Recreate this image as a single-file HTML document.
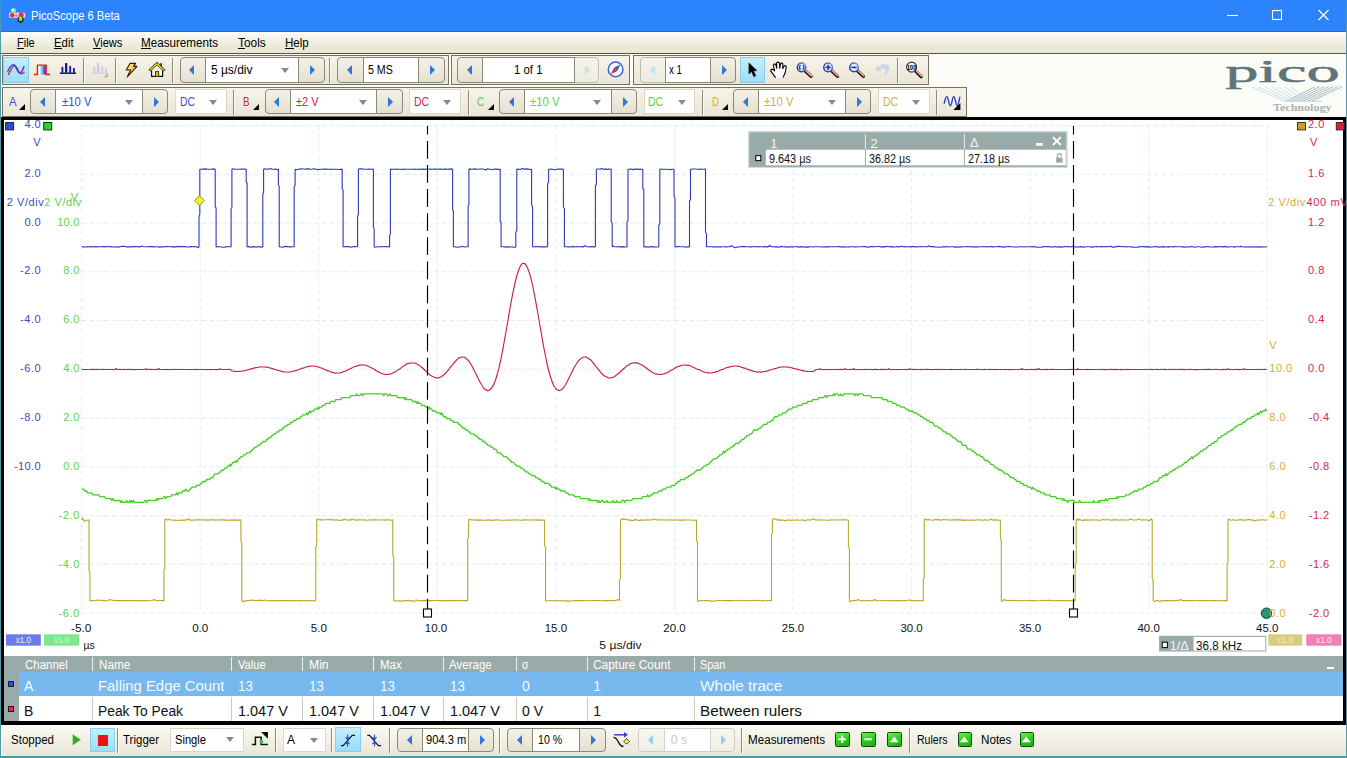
<!DOCTYPE html>
<html lang="en"><head><meta charset="utf-8"><title>PicoScope 6 Beta</title>
<style>
html,body{margin:0;padding:0}
body{width:1347px;height:758px;overflow:hidden;background:#fbfbf8;font-family:"Liberation Sans",sans-serif;position:relative}
div,span.t,svg{position:absolute;box-sizing:border-box}
span.t{line-height:20px;white-space:pre;transform-origin:0 50%}
.grp{border:1px solid #77735f;background:linear-gradient(#f6f4ea,#e9e6d6)}
.spin{border:1px solid #8b8876;border-radius:4px;background:linear-gradient(#f3f1e6,#e4e1d0);overflow:hidden}
.spin .w{background:#fff;border-left:1px solid #8b8876;border-right:1px solid #8b8876;top:-1px;bottom:-1px;height:auto}
.spin.dis{border-color:#cfccbf;background:linear-gradient(#f8f7f0,#f0eee4)}.spin.dis .w{border-color:#d6d3c6}
.dd{background:#fff;border:1px solid #dad7c8}
.sep{width:2px;border-left:1px solid #8e8a78;border-right:1px solid #fbfaf3}
.sel{background:linear-gradient(#c6eefc,#9bdcf8);border:1px solid #8ccdf0}
.tri-l{width:0;height:0;border-top:5px solid transparent;border-bottom:5px solid transparent;border-right:5.6px solid #2b77dd}
.tri-r{width:0;height:0;border-top:5px solid transparent;border-bottom:5px solid transparent;border-left:5.6px solid #2b77dd}
.tri-d{width:0;height:0;border-left:4.5px solid transparent;border-right:4.5px solid transparent;border-top:5px solid #8a8a8a}
.cor{width:0;height:0;border-left:6px solid transparent;border-bottom:6px solid #000}
.gbtn{border:1.2px solid #0e4c0e;background:linear-gradient(160deg,#6cf050,#2fd41e 45%,#1ea812);border-radius:1.5px}
</style></head>
<body>
<div style="left:0px;top:0px;width:1347px;height:31px;background:#2b84fb"></div>
<span class="t" style="left:30.80px;top:6px;font-size:12.5px;color:#fff;transform:scaleX(0.8925);">PicoScope 6 Beta</span>
<svg style="left:0;top:0" width="34" height="31" viewBox="0 0 34 31"><rect x="9" y="12.8" width="16.2" height="5" rx="1.2" fill="#f2dcee"/><circle cx="13.4" cy="10.8" r="2.7" fill="#7ae69a"/><circle cx="13" cy="10" r="1.3" fill="#e8fff0"/><circle cx="12.2" cy="15.3" r="2.3" fill="#e0304c"/><circle cx="16.4" cy="15.6" r="1.5" fill="#e87890"/><circle cx="21.2" cy="15" r="2.5" fill="#e22c48"/><circle cx="20.6" cy="19.6" r="3.1" fill="#0c2a10"/><circle cx="20.6" cy="19.2" r="2" fill="#7ed224"/><circle cx="20.6" cy="17.6" r="1.2" fill="#f0e850"/></svg>
<svg style="left:1200px;top:0" width="147" height="31" viewBox="0 0 147 31"><path d="M27 15.5h11" stroke="#fff" stroke-width="1.1" fill="none"/><rect x="72.5" y="10.5" width="9" height="9" stroke="#fff" stroke-width="1.1" fill="none"/><path d="M118.5 10l10 10M128.5 10l-10 10" stroke="#fff" stroke-width="1.2" fill="none"/></svg>
<div style="left:0px;top:30.6px;width:1347px;height:1.1px;background:#3f659a"></div>
<div style="left:0px;top:31.7px;width:1347px;height:21.3px;background:linear-gradient(#ffffff,#f8f8f1 12%,#f0efe2 50%,#e9e8d2 80%,#ece7d3)"></div>
<div style="left:0px;top:53px;width:1347px;height:1.2px;background:#55534a"></div>
<span class="t" style="left:17.10px;top:32.7px;font-size:12.5px;color:#000;transform:scaleX(0.8790);">File</span>
<div style="left:17.1px;top:48.3px;width:7.25377px;height:1px;background:#000"></div>
<span class="t" style="left:54.40px;top:32.7px;font-size:12.5px;color:#000;transform:scaleX(0.9100);">Edit</span>
<div style="left:54.4px;top:48.3px;width:7.92063px;height:1px;background:#000"></div>
<span class="t" style="left:93.10px;top:32.7px;font-size:12.5px;color:#000;transform:scaleX(0.8879);">Views</span>
<div style="left:93.1px;top:48.3px;width:7.92063px;height:1px;background:#000"></div>
<span class="t" style="left:141.40px;top:32.7px;font-size:12.5px;color:#000;transform:scaleX(0.9326);">Measurements</span>
<div style="left:141.4px;top:48.3px;width:9.89206px;height:1px;background:#000"></div>
<span class="t" style="left:238.10px;top:32.7px;font-size:12.5px;color:#000;transform:scaleX(0.9494);">Tools</span>
<div style="left:238.1px;top:48.3px;width:7.25377px;height:1px;background:#000"></div>
<span class="t" style="left:285.40px;top:32.7px;font-size:12.5px;color:#000;transform:scaleX(0.9256);">Help</span>
<div style="left:285.4px;top:48.3px;width:8.57579px;height:1px;background:#000"></div>
<div class="grp" style="left:2px;top:55px;width:447px;height:30.4px;"></div>
<div class="grp" style="left:451px;top:55px;width:179.2px;height:30.4px;"></div>
<div class="grp" style="left:633px;top:55px;width:296px;height:30.4px;"></div>
<div class="sel" style="left:3px;top:57.3px;width:25.7px;height:25.4px;"></div>
<div class="sep" style="left:83px;top:58px;width:2px;height:25px;"></div>
<div class="sep" style="left:115px;top:58px;width:2px;height:25px;"></div>
<div class="sep" style="left:172px;top:58px;width:2px;height:25px;"></div>
<div class="spin" style="left:179.5px;top:57.2px;width:145.1px;height:25.6px;"><div class="w" style="left:24.3px;top:-1px;width:94.1px;height:25.6px;"></div><div class="tri-l" style="left:8.85px;top:7.1px;border-right-color:#2b77dd"></div><div class="tri-r" style="left:129.45px;top:7.1px;border-left-color:#2b77dd"></div><div class="tri-d" style="left:100.1px;top:10.1px"></div></div><span class="t" style="left:210.60px;top:59.8px;font-size:12.5px;color:#000;transform:scaleX(0.9556);">5 µs/div</span>
<div class="sep" style="left:329px;top:58px;width:2px;height:25px;"></div>
<div class="spin" style="left:337.3px;top:57.2px;width:107.3px;height:25.6px;"><div class="w" style="left:24.6px;top:-1px;width:55.9px;height:25.6px;"></div><div class="tri-l" style="left:9px;top:7.1px;border-right-color:#2b77dd"></div><div class="tri-r" style="left:91.6px;top:7.1px;border-left-color:#2b77dd"></div></div><span class="t" style="left:367.90px;top:59.8px;font-size:12.5px;color:#000;transform:scaleX(0.8500);">5 MS</span>
<div class="spin" style="left:457.3px;top:57.2px;width:142.2px;height:25.6px;"><div class="w" style="left:24px;top:-1px;width:92.7px;height:25.6px;"></div><div class="tri-l" style="left:8.7px;top:7.1px;border-right-color:#2b77dd"></div><div class="tri-r" style="left:127.15px;top:7.1px;border-left-color:#8fd2ec"></div></div><span class="t" style="left:514.40px;top:59.8px;font-size:12.5px;color:#000;transform:scaleX(0.9113);">1 of 1</span>
<div class="spin" style="left:639.8px;top:57.2px;width:96.4px;height:25.6px;"><div class="w" style="left:24.3px;top:-1px;width:45.9px;height:25.6px;"></div><div class="tri-l" style="left:8.85px;top:7.1px;border-right-color:#8fd2ec"></div><div class="tri-r" style="left:81px;top:7.1px;border-left-color:#2b77dd"></div></div><span class="t" style="left:669.00px;top:59.8px;font-size:12.5px;color:#000;transform:scaleX(0.7800);">x 1</span>
<div style="left:639.8px;top:57.2px;width:25px;height:25.6px;background:rgba(250,249,243,.45);border-radius:4px 0 0 4px;pointer-events:none;z-index:0"></div>
<div style="left:575.3px;top:57.2px;width:24.4px;height:25.6px;background:rgba(250,249,243,.45);border-radius:0 4px 4px 0"></div>
<div class="sel" style="left:739.6px;top:57.3px;width:25px;height:25.4px;"></div>
<div class="sep" style="left:896.6px;top:58px;width:2px;height:25px;"></div>
<div class="grp" style="left:2px;top:86.9px;width:965px;height:30.6px;"></div>
<span class="t" style="left:8.60px;top:91.8px;font-size:12.5px;color:#3a4fd0;transform:scaleX(0.9115);">A</span>
<div class="cor" style="left:19px;top:103.8px;width:6.2px;height:6.2px;"></div>
<div class="spin" style="left:30.3px;top:89.4px;width:138.1px;height:25.1px;"><div class="w" style="left:24px;top:-1px;width:87.9px;height:25.1px;"></div><div class="tri-l" style="left:8.7px;top:6.85px;border-right-color:#2b77dd"></div><div class="tri-r" style="left:122.7px;top:6.85px;border-left-color:#2b77dd"></div><div class="tri-d" style="left:93.6px;top:9.85px"></div></div><span class="t" style="left:61.50px;top:91.8px;font-size:12.5px;color:#3a4fd0;transform:scaleX(0.9087);">±10 V</span>
<div class="dd" style="left:175.1px;top:89.2px;width:51.6px;height:25.3px;"><div class="tri-d" style="left:33px;top:9.35px"></div></div><span class="t" style="left:179.60px;top:91.8px;font-size:12.5px;color:#3a4fd0;transform:scaleX(0.8366);">DC</span>
<div class="sep" style="left:233.2px;top:90px;width:2px;height:25px;"></div>
<span class="t" style="left:242.90px;top:91.8px;font-size:12.5px;color:#d81e4a;transform:scaleX(0.7800);">B</span>
<div class="cor" style="left:253.3px;top:103.8px;width:6.2px;height:6.2px;"></div>
<div class="spin" style="left:264.6px;top:89.4px;width:138.1px;height:25.1px;"><div class="w" style="left:24px;top:-1px;width:87.9px;height:25.1px;"></div><div class="tri-l" style="left:8.7px;top:6.85px;border-right-color:#2b77dd"></div><div class="tri-r" style="left:122.7px;top:6.85px;border-left-color:#2b77dd"></div><div class="tri-d" style="left:93.6px;top:9.85px"></div></div><span class="t" style="left:295.80px;top:91.8px;font-size:12.5px;color:#d81e4a;transform:scaleX(0.8859);">±2 V</span>
<div class="dd" style="left:409.4px;top:89.2px;width:51.6px;height:25.3px;"><div class="tri-d" style="left:33px;top:9.35px"></div></div><span class="t" style="left:413.90px;top:91.8px;font-size:12.5px;color:#d81e4a;transform:scaleX(0.8366);">DC</span>
<div class="sep" style="left:467.5px;top:90px;width:2px;height:25px;"></div>
<span class="t" style="left:477.20px;top:91.8px;font-size:12.5px;color:#5fd04a;transform:scaleX(0.7800);">C</span>
<div class="cor" style="left:487.6px;top:103.8px;width:6.2px;height:6.2px;"></div>
<div class="spin" style="left:498.9px;top:89.4px;width:138.1px;height:25.1px;"><div class="w" style="left:24px;top:-1px;width:87.9px;height:25.1px;"></div><div class="tri-l" style="left:8.7px;top:6.85px;border-right-color:#2b77dd"></div><div class="tri-r" style="left:122.7px;top:6.85px;border-left-color:#2b77dd"></div><div class="tri-d" style="left:93.6px;top:9.85px"></div></div><span class="t" style="left:530.10px;top:91.8px;font-size:12.5px;color:#5fd04a;transform:scaleX(0.9087);">±10 V</span>
<div class="dd" style="left:643.7px;top:89.2px;width:51.6px;height:25.3px;"><div class="tri-d" style="left:33px;top:9.35px"></div></div><span class="t" style="left:648.20px;top:91.8px;font-size:12.5px;color:#5fd04a;transform:scaleX(0.8366);">DC</span>
<div class="sep" style="left:701.8px;top:90px;width:2px;height:25px;"></div>
<span class="t" style="left:711.50px;top:91.8px;font-size:12.5px;color:#d4b23a;transform:scaleX(0.7800);">D</span>
<div class="cor" style="left:721.9px;top:103.8px;width:6.2px;height:6.2px;"></div>
<div class="spin" style="left:733.2px;top:89.4px;width:138.1px;height:25.1px;"><div class="w" style="left:24px;top:-1px;width:87.9px;height:25.1px;"></div><div class="tri-l" style="left:8.7px;top:6.85px;border-right-color:#2b77dd"></div><div class="tri-r" style="left:122.7px;top:6.85px;border-left-color:#2b77dd"></div><div class="tri-d" style="left:93.6px;top:9.85px"></div></div><span class="t" style="left:764.40px;top:91.8px;font-size:12.5px;color:#d4b23a;transform:scaleX(0.9087);">±10 V</span>
<div class="dd" style="left:878px;top:89.2px;width:51.6px;height:25.3px;"><div class="tri-d" style="left:33px;top:9.35px"></div></div><span class="t" style="left:882.50px;top:91.8px;font-size:12.5px;color:#d4b23a;transform:scaleX(0.8366);">DC</span>
<div class="sep" style="left:936.1px;top:90px;width:2px;height:25px;"></div>
<div style="left:1.3px;top:117.2px;width:1344.4px;height:608.2px;background:#000"></div>
<div style="left:3.9px;top:119.8px;width:1338.9px;height:536.6px;background:#fff"></div>
<svg style="left:0;top:0;pointer-events:none" width="1347" height="758" viewBox="0 0 1347 758" font-family="'Liberation Sans',sans-serif">
<path d="M81.7 125.5V613.1M81.7 125.5H1267.2M200.2 125.5V613.1M81.7 174.3H1267.2M318.8 125.5V613.1M81.7 223.0H1267.2M437.3 125.5V613.1M81.7 271.8H1267.2M555.9 125.5V613.1M81.7 320.5H1267.2M674.5 125.5V613.1M81.7 369.3H1267.2M793.0 125.5V613.1M81.7 418.1H1267.2M911.6 125.5V613.1M81.7 466.8H1267.2M1030.1 125.5V613.1M81.7 515.6H1267.2M1148.7 125.5V613.1M81.7 564.3H1267.2M1267.2 125.5V613.1M81.7 613.1H1267.2" stroke="#dfeeef" stroke-width="1" stroke-dasharray="4.5 3" fill="none"/>
<path d="M81.7 246.8L82.7 246.7L83.8 246.9L85.4 247L87 246.9L88.1 246.5L89.5 247L91.9 246.6L93 246.7L94.4 246.9L96.6 246.9L98.5 246.7L99.6 246.7L100.9 246.7L102.8 246.6L104.2 246.9L106.1 246.5L108.4 246.8L109.6 246.6L111.7 246.9L113.7 247L115.6 246.9L117.5 246.7L119.2 247.1L121.2 246.4L123.2 246.4L124.6 246.3L126.6 247L127.8 246.8L130 246.9L132.3 246.9L133.9 246.4L136.2 246.7L137.9 246.5L139.1 247.1L140.4 246.8L141.8 246.1L143.6 246.7L145.9 246.7L147.9 246.8L150.3 246.6L152.2 246.6L153.8 246.9L156.2 246.7L157.4 246.8L159.2 247.1L160.5 246.7L162.5 247.1L163.6 246.7L166.1 246.6L168.2 246.8L170 246.7L172.4 246.6L174.4 247.1L176.4 246.6L178.6 246.4L180 246.7L181.7 246.6L183.9 246.6L185.2 246.5L187 247L189.5 246.9L191.4 246.6L193.6 246.8L194.7 246.6L196.4 246.7L198.3 247.8L199 246.8L199 216L199.8 214.5L199.8 169.2L200.8 169.3L202.9 169.1L205.3 168.9L207.7 169.3L209.4 169.2L211.9 169.1L213.7 168.9L215.2 169.2L215.2 206.6L216.1 208.1L216.1 246.8L217.1 246.9L218.4 246.8L220.5 246.8L222.6 247.2L224.9 247.3L226.2 246.5L228 246.8L229.1 246.8L231.1 246.8L231.1 208.9L231.9 207.4L231.9 169.2L232.9 168.8L235.3 169.3L237.6 169.3L239.5 169.2L241.4 169.1L242.5 169.1L244.7 169L245.8 169.2L246.2 169.2L246.2 181.6L247.1 183.1L247.1 246.8L248.1 246.9L249.2 246.6L250.5 247.3L252.3 246.9L254.1 246.6L256.5 247.2L258.2 246.6L259.7 246.7L261.1 247.1L262.2 246.9L262.8 246.8L262.8 194.2L263.6 192.6L263.6 169.2L264.6 168.7L266.4 169.2L267.6 169.1L268.9 169L270.6 168.6L271.7 169.1L273.8 169.3L275.5 169.1L277.9 169.7L278.4 169.2L278.4 184.7L279.2 186.3L279.2 246.8L280.2 246.7L282.4 247.2L284.7 246.6L286.5 246.4L288.2 246.7L289.5 246.9L290.9 246.9L292.8 246.8L294.2 246.8L294.2 186.8L295.1 185.3L295.1 169.2L296.1 169.8L298.4 169.2L299.5 169.1L300.9 168.7L303.3 169L304.9 169L306.4 169.4L307.4 168.6L309.8 169.1L311.8 169.2L313.8 168.8L315.3 169.1L316.6 169.3L317.8 169.6L320.3 169.2L322.6 169.2L323.7 169.1L326.2 169L328.2 169.3L329.2 169.2L330.7 169.4L333 169.2L334.3 169.2L336.3 169.3L338.5 169.5L340.3 169.4L341.8 169.1L342.2 169.2L342.2 188.7L343.1 190.2L343.1 246.8L344.1 246.7L346.3 246.5L348.1 246.6L350 247L351.8 247.1L353.8 246.4L355.7 246.8L356.7 246.7L357.6 246.8L357.6 216L358.4 214.4L358.4 169.2L359.4 168.9L360.5 168.9L362.2 168.8L363.2 169.1L364.9 169.2L367.3 169.3L369.4 169.1L371.6 169.3L373 169.1L373.4 169.2L373.4 227.3L374.2 228.9L374.2 246.8L375.2 247.2L376.3 247L377.6 246.7L379.7 246.7L380.9 246.6L382 246.8L383.7 246.8L385.9 246.6L387.7 246.8L389.1 246.9L389.6 246.8L389.6 235.7L390.4 234.1L390.4 169.2L391.4 169.4L393.8 169.2L395 169.2L396.9 169L398.3 169.3L400.6 169.3L401.9 169.5L403.9 169.1L405.5 169.3L407 169.3L409.4 169.2L410.8 169.2L412.4 169.3L414.5 169.1L416 169.5L417.2 169.3L418.8 169.1L420.5 169.5L422.6 168.9L423.9 169.4L426.3 169L428.6 169.3L431 169.1L432.4 169.2L434.5 169.1L436.2 169L437.4 169.2L439.6 169.1L441.3 169L443.1 169.5L444.4 169L446.6 169.1L447.6 169.3L449 169.1L451.1 168.9L452.6 169.2L452.6 209.6L453.4 211.2L453.4 246.8L454.4 246.8L456.7 247.2L458.7 247L460.2 247L461.8 246.3L464 247L466.4 246.8L468.1 246.8L468.1 206.2L468.9 204.7L468.9 169.2L469.9 168.9L471.2 169.3L472.3 169.3L474.7 168.9L476.8 169.3L477.9 169.2L480.3 169L482.5 169L483.9 169.3L486.1 170L487.6 168.7L489.9 169.3L491.3 169.2L492.7 169.7L494.5 169.1L496.5 169L497.8 169.4L499.8 169.2L500.2 169.2L500.2 221.4L501.1 222.9L501.1 246.8L502.1 246.7L503.6 246.8L505 246.9L507.4 247.1L508.7 246.8L511.1 247L512.7 246.9L513.8 247.3L515.4 247.1L515.8 246.8L515.8 232.2L516.8 230.6L516.8 169.2L517.8 169L519 169.5L521 169.1L522.6 168.2L523.7 169.3L526 168.9L528.2 169.1L530.4 169.5L531.6 169.2L531.6 205L532.6 206.5L532.6 246.8L533.6 247L535.7 246.5L537.6 246.8L539.2 246.4L540.4 246.9L542.4 246.7L543.4 246.9L545.5 246.9L547.4 246.7L547.6 246.8L547.6 183.7L548.6 182.1L548.6 169.2L549.6 169.2L551.2 169.1L553.4 169.5L555.2 169.8L556.6 169.2L558.9 169.1L561.1 169L562.3 169.1L563.4 169.2L563.4 207L564.4 208.5L564.4 246.8L565.4 246.7L566.5 246.8L568.4 246.9L570.9 247L572.1 246.4L573.9 246.9L576 246.8L577.5 246.6L578.8 246.7L580.3 246.8L581.5 246.9L583.3 246.9L584.5 245.6L586.7 246.8L587.8 246.8L590.3 246.9L592.7 246.5L594.1 247.1L595.4 246.8L595.4 185.9L596.4 184.4L596.4 169.2L597.4 169L598.9 169L600.2 169.2L601.5 168.6L603.1 169L604.2 169.4L605.9 168.9L607.1 169.4L609.1 169.1L611.1 169.3L611.2 169.2L611.2 221.7L612.2 223.3L612.2 246.8L613.2 246.1L615.1 246.7L616.7 247L617.9 246.7L619.8 246.6L620.8 247.1L623 246.6L625.2 247L626.7 246.9L627 246.8L627 222.2L628 220.6L628 169.2L629 169.3L631.2 169.1L633.5 169.6L635.4 169.1L637.5 169.1L639.4 169.4L640.7 169L642.6 169.7L642.8 169.2L642.8 188.4L643.8 189.9L643.8 246.8L644.8 246.9L647 246.9L649 247.2L650.5 246.6L652.6 246.9L654.1 246.8L655.9 247L656.9 247L658.8 246.8L658.8 246.8L658.8 225.4L659.8 223.8L659.8 169.2L660.8 169.1L662.3 169.2L664.1 169.2L666.4 169.2L668.5 169.5L670.5 169.4L671.5 169.5L672.7 169.3L674 169.2L674 196.1L675 197.7L675 246.8L676 246.9L678 246.5L680.3 246.7L682.2 246.7L683.9 246.8L685.8 247.3L687.1 246.7L689.1 246.9L689.5 246.8L689.5 201.1L690.5 199.6L690.5 169.2L691.5 169.2L692.5 169L695 169L697.3 169.3L699.1 169.4L700.7 168.9L701.9 169.2L703.8 169.3L705.3 169L705.5 169.2L705.5 232L706.5 233.5L706.5 246.8L707.5 246.8L709.5 246.8L711.5 246.7L713 247L714.1 246.9L716 246.7L717.6 247L718.8 246.5L719.8 247.1L721.9 246.7L723.9 246.8L726.1 246.9L728.4 246.8L730.3 246.6L731.5 245.6L733.3 246.7L735.5 247.7L737.5 246.9L739.4 247L741.1 246.6L743 246.6L745.1 246.6L746.7 246.8L747.9 246.7L749.3 246.7L750.4 247.2L751.8 246.5L753.8 246.7L756.2 246.5L758.6 246.9L759.9 246.7L762.2 246.8L763.4 246.9L765.3 246.5L767.8 247.1L769.6 245.5L771.3 246.8L773.1 246.8L774.3 246.9L775.5 246.9L777 246.8L778 247.1L780.1 246.9L781.2 246.6L783.4 246.7L784.5 247.1L785.7 246.5L786.8 247.2L788.8 246.9L790.7 246.8L792.9 246.9L794.3 246.8L795.8 246.8L797.3 246.6L799.6 247.3L800.6 246.6L802.2 246.9L804 246.9L806.2 247.2L807.2 246.9L808.2 247.1L809.9 246.8L811.5 246.7L812.9 247L814.9 246.7L816.1 246.7L818.1 246.7L820.1 246.7L822.4 247L824.7 246.9L827.1 246.8L828.6 246.9L830.4 246.7L832.6 246.7L833.8 246.7L835.8 246.8L838 246.7L839.2 246.4L840.4 246.9L842.5 246.9L843.9 246.7L845.6 246.9L848.1 247L849.3 246.9L851.7 246.8L853.8 246.7L855 246.9L856.6 247L858.6 246.8L860.6 246.7L862.2 246.8L864.5 246.6L866.2 246.9L868.3 247.1L870.5 246.6L872.5 246.6L873.6 246.8L875.8 246.7L877.5 246.5L879.4 246.5L880.7 247L882.8 246.6L883.9 246.9L885.1 246.9L886.3 246.3L888.1 246.8L890.3 246.6L891.9 246.9L893.5 246.8L894.7 247L896.1 246.8L897.2 246.6L898.7 246.9L900 246.8L901.3 246.3L902.9 246.8L905.1 246.9L906.8 246.7L908.4 246.7L910.6 246.9L912.4 246.6L914.7 246.6L916.2 247.1L917.9 246.8L919.3 246.8L920.8 246.6L922.7 246.8L925.1 246.8L927.5 246.7L928.7 245.8L930 246.6L931.5 246.6L932.7 246.6L934.9 246.9L936.8 247L939.3 247.2L941.3 247L943 246.8L945 246.9L946.2 246.5L948 247L950.4 246.8L952.3 246.7L953.5 246.7L955 247.1L956.6 247.1L958.1 246.8L959.2 247.1L961.4 246.9L963.1 246.8L964.7 246.7L965.9 246.7L967.7 246.6L969.1 246.7L970.6 246.9L972.3 246.5L973.8 247.3L975.6 246.9L976.8 246.9L977.9 247L979.5 246.8L981.1 246.8L982.8 246.8L983.9 246.5L985.1 246.8L987.1 246.9L989.1 246.7L990.4 246.6L991.5 246.5L992.5 246.9L994.6 246.7L995.9 246.8L997.7 246.8L999.5 246.4L1001.1 246.7L1002.7 247.1L1005.2 246.9L1006.4 246.8L1008.2 246.5L1010.1 246.8L1012.6 246.8L1013.9 247L1015.8 247L1017.9 247L1019.9 246.7L1022.1 246.7L1024.1 247L1026.4 246.8L1028.8 246.8L1030.7 246.7L1033.1 246.9L1035 246.6L1036.7 247.2L1039.2 247.2L1041.4 247.1L1043.6 246.6L1045.1 246.8L1047 246.6L1049.3 246.5L1050.3 247L1052.8 247.1L1054.4 246.6L1056 247L1057.5 246.8L1059.7 246.9L1061.1 247.1L1062.3 247.1L1064.5 246.5L1066.3 246.7L1068 246.5L1070.5 247L1071.6 246.6L1073.5 246.1L1075.2 247.1L1076.5 247L1078.9 247L1080.8 246.6L1082 246.9L1083.9 247.1L1085.7 246.8L1087.2 246.8L1089.2 246.8L1090.7 246.7L1091.7 247.4L1093.5 246.9L1094.8 246.8L1097 246.6L1099.4 246.8L1100.7 246.9L1101.8 246.4L1104.2 246.7L1105.3 246.6L1107.7 246.7L1109.6 246.5L1111.2 246.4L1112.4 247.4L1113.5 246.7L1115 247.2L1116.1 246.6L1118.1 246.4L1119.4 246.3L1121.8 246.7L1123.9 246.6L1125.4 246.8L1126.6 246.9L1127.9 246.8L1129.1 246.8L1131.5 246.9L1133.9 247.3L1135.5 247.2L1137.5 247.1L1139 246.9L1140.2 246.6L1141.3 246.7L1143.6 246.6L1145.2 246.9L1146.7 246.9L1148.5 246.6L1150.9 247.2L1153.3 246.7L1154.7 246.7L1156 246.4L1158.4 247.3L1159.8 246.9L1161.3 246.8L1162.3 246.9L1163.3 246.6L1165.1 246.9L1166.4 247L1167.6 246.9L1168.9 247.1L1170 246.6L1171.3 246.7L1173.4 246.9L1174.5 246.6L1176.1 246.8L1177.6 246.7L1179.9 246.8L1181.6 246.8L1183 246.9L1184.3 247.1L1186.2 247L1187.9 246.8L1190 247L1192.1 246.4L1194.2 247.2L1196 247L1197.8 246.8L1199.1 246.8L1200.2 246.8L1201.4 247.2L1202.7 247.1L1204.5 246.8L1205.6 247L1206.8 246.6L1208.6 246.8L1209.8 246.9L1212 247L1213.3 247L1215.7 246.6L1217.5 246.9L1219.9 246.8L1221.4 246.6L1223.9 246.9L1226.1 246.4L1227.9 247.3L1229.6 246.7L1231.1 246.7L1232.9 246.8L1234.1 247.1L1236 246.7L1238.3 246.8L1239.7 246.8L1241.2 246.4L1242.5 246.7L1244.2 247L1246.2 246.7L1248 247L1249.7 246.7L1251 246.9L1252.6 246.9L1253.9 247L1255.9 246.9L1257.8 246.9L1259.7 247.1L1261.4 246.7L1263.1 246.9L1265 247L1266.4 246.8L1267.2 246.8" stroke="#2c3ab8" stroke-width="1.1" fill="none" stroke-linejoin="round"/>
<path d="M81.7 369.5L82.7 369.6L83.7 369.5L84.7 369.5L85.7 369.5L86.7 369.5L87.7 369.5L88.7 369.5L89.7 369.5L90.7 369.5L91.7 369.4L92.7 369.4L93.7 369.5L94.7 369.4L95.7 369.5L96.7 369.4L97.7 369.5L98.7 369.5L99.7 369.4L100.7 369.5L101.7 369.5L102.7 369.4L103.7 369.4L104.7 369.5L105.7 369.5L106.7 369.5L107.7 369.5L108.7 369.4L109.7 369.5L110.7 369.5L111.7 369.5L112.7 369.5L113.7 369.6L114.7 369.4L115.7 368.5L116.7 369.5L117.7 369.4L118.7 369.5L119.7 369.3L120.7 369.5L121.7 369.5L122.7 369.5L123.7 369.4L124.7 369.6L125.7 369.5L126.7 369.5L127.7 369.4L128.7 369.5L129.7 369.4L130.7 369.5L131.7 369.4L132.7 369.5L133.7 369.6L134.7 369.5L135.7 369.6L136.7 369.5L137.7 369.5L138.7 369.5L139.7 369.4L140.7 369.5L141.7 369.5L142.7 369.5L143.7 369.5L144.7 369.5L145.7 368.6L146.7 369.6L147.7 369.5L148.7 369.4L149.7 369.4L150.7 369.5L151.7 369.3L152.7 369.5L153.7 369.5L154.7 369.5L155.7 369.5L156.7 369.5L157.7 369.4L158.7 368.5L159.7 369.5L160.7 369.5L161.7 369.5L162.7 369.5L163.7 369.5L164.7 369.5L165.7 369.6L166.7 369.5L167.7 369.4L168.7 369.5L169.7 369.6L170.7 369.5L171.7 369.5L172.7 369.5L173.7 369.4L174.7 369.5L175.7 369.5L176.7 369.5L177.7 369.4L178.7 369.5L179.7 369.5L180.7 369.5L181.7 369.5L182.7 369.5L183.7 369.5L184.7 369.5L185.7 369.5L186.7 369.5L187.7 369.5L188.7 369.5L189.7 369.5L190.7 369.6L191.7 369.5L192.7 369.5L193.7 369.5L194.7 369.5L195.7 369.4L196.7 369.6L197.7 369.5L198.7 369.5L199.7 369.5L200.7 369.5L201.7 369.5L202.7 369.5L203.7 369.5L204.7 369.5L205.7 369.5L206.7 369.6L207.7 369.5L208.7 369.5L209.7 369.5L210.7 369.6L211.7 369.5L212.7 369.5L213.7 369.5L214.7 369.5L215.7 369.6L216.7 369.6L217.7 369.6L218.7 369.5L219.7 368.6L220.7 369.5L221.7 369.5L222.7 369.5L223.7 369.5L224.7 369.5L225.7 369.5L226.7 369.5L227.7 369.5L228.7 369.4L229.7 369.5L230.7 369.5L231.7 371L232.7 371L233.7 371L234.7 371.5L235.7 371.5L236.7 371.4L237.7 371.5L238.7 371.5L239.7 371.4L240.7 371.5L241.7 371L242.7 371L243.7 371L244.7 370.4L245.7 370.5L246.7 370L247.7 370L248.7 369.4L249.7 369.5L250.7 369L251.7 368.6L252.7 368.6L253.7 368L254.7 368.1L255.7 367.5L256.7 367.5L257.7 367.5L258.7 367L259.7 367L260.7 366.9L261.7 367L262.7 367L263.7 367L264.7 367L265.7 367.1L266.7 367L267.7 367.5L268.7 367.4L269.7 368L270.7 368L271.7 368.6L272.7 368.5L273.7 368.9L274.7 369.5L275.7 369.5L276.7 370L277.7 370.5L278.7 370.5L279.7 371L280.7 370.9L281.7 371.5L282.7 371.6L283.7 372.1L284.7 372L285.7 372L286.7 372L287.7 372L288.7 372L289.7 372L290.7 372L291.7 371.5L292.7 371.5L293.7 371L294.7 370.9L295.7 370.5L296.7 370.5L297.7 369.9L298.7 369.5L299.7 369L300.7 369L301.7 368.5L302.7 368.1L303.7 368L304.7 367.6L305.7 367L306.7 367.1L307.7 366.4L308.7 366.5L309.7 366.5L310.7 366.1L311.7 366L312.7 366L313.7 366L314.7 366.4L315.7 366.5L316.7 366.5L317.7 367L318.7 367L319.7 367.5L320.7 368L321.7 368L322.7 368.6L323.7 369L324.7 369.5L325.7 370L326.7 370.6L327.7 370.5L328.7 371L329.7 371.5L330.7 372L331.7 372.1L332.7 372.5L333.7 372.6L334.7 373L335.7 373.1L336.7 373L337.7 373L338.7 373L339.7 373L340.7 372.5L341.7 372.5L342.7 372L343.7 371.6L344.7 371.5L345.7 370.9L346.7 370.4L347.7 370L348.7 369.5L349.7 369L350.7 368.5L351.7 368.1L352.7 367.5L353.7 367L354.7 366.5L355.7 366.5L356.7 366.1L357.7 365.6L358.7 365.4L359.7 365L360.7 365.1L361.7 365L362.7 364.9L363.7 365L364.7 365L365.7 365.5L366.7 365.5L367.7 366L368.7 366.5L369.7 366.9L370.7 367.6L371.7 368L372.7 368.5L373.7 368.9L374.7 369.5L375.7 370.5L376.7 370.9L377.7 371.6L378.7 371.9L379.7 372.4L380.7 373L381.7 373.5L382.7 374L383.7 374L384.7 374.5L385.7 374.5L386.7 374.5L387.7 374.4L388.7 374.5L389.7 374L390.7 374L391.7 373.5L392.7 373L393.7 372.5L394.7 372L395.7 371.6L396.7 370.9L397.7 370L398.7 369.4L399.7 369L400.7 368.1L401.7 367.4L402.7 366.5L403.7 366L404.7 365.5L405.7 364.5L406.7 363.9L407.7 363.5L408.7 363.5L409.7 363L410.7 363.1L411.7 363L412.7 363L413.7 363L414.7 363L415.7 363.5L416.7 364L417.7 364.6L418.7 365L419.7 365.6L420.7 366.4L421.7 367.6L422.7 368L423.7 369L424.7 370L425.7 371L426.7 371.9L427.7 373L428.7 373.6L429.7 374.6L430.7 375.5L431.7 376L432.7 376.5L433.7 376.9L434.7 377.6L435.7 377.5L436.7 378L437.7 378L438.7 377.5L439.7 377.6L440.7 377L441.7 376.5L442.7 375.5L443.7 374.9L444.7 374L445.7 373L446.7 372L447.7 370.5L448.7 369.5L449.7 368L450.7 367L451.7 365.6L452.7 364.6L453.7 363L454.7 362L455.7 361L456.7 360L457.7 358.9L458.7 358L459.7 357.5L460.7 357.6L461.7 357L462.7 357L463.7 357L464.7 357.5L465.7 358L466.7 359L467.7 359.9L468.7 361L469.7 362.4L470.7 364L471.7 365.5L472.7 367.5L473.7 369.6L474.7 371.5L475.7 373.6L476.7 375.6L477.7 377.5L478.7 379.5L479.7 381.6L480.7 383L481.7 385L482.7 386.5L483.7 388L484.7 389L485.7 389.5L486.7 390.5L487.7 390.6L488.7 390.5L489.7 390L490.7 389L491.7 388L492.7 386.4L493.7 384.6L494.7 382L495.7 379.5L496.7 376L497.7 372.6L498.7 368.9L499.7 364.5L500.7 360.1L501.7 355L502.7 350.1L503.7 344.5L504.7 338.9L505.7 333.5L506.7 327.5L507.7 322L508.7 315.9L509.7 310L510.7 304.5L511.7 299L512.7 294L513.7 288.9L514.7 284.5L515.7 280.1L516.7 276.1L517.7 273L518.7 270L519.7 267.5L520.7 265.6L521.7 264L522.7 263.4L523.7 263.5L524.7 263.5L525.7 264.6L526.7 266.1L527.7 268.5L528.7 271.1L529.7 274L530.7 277.6L531.7 281.5L532.7 286L533.7 291L534.7 296L535.7 301.5L536.7 306.9L537.7 312.5L538.7 318.5L539.7 324L540.7 330L541.7 335.4L542.7 341.5L543.7 347L544.7 352L545.7 357L546.7 362.1L547.7 366.5L548.7 370.5L549.7 374L550.7 377.5L551.7 380.5L552.7 383L553.7 385.5L554.7 387L555.7 388.5L556.7 389.5L557.7 390L558.7 390.6L559.7 390.5L560.7 390L561.7 389.5L562.7 388.5L563.7 387.4L564.7 386L565.7 384.5L566.7 382.5L567.7 380.6L568.7 378.5L569.7 376.5L570.7 374.5L571.7 372.4L572.7 370.5L573.7 368.5L574.7 366.5L575.7 365L576.7 363.5L577.7 362L578.7 360.6L579.7 359.5L580.7 358.6L581.7 357.9L582.7 357.5L583.7 357L584.7 357L585.7 356.9L586.7 357.5L587.7 358.1L588.7 358.4L589.7 359.5L590.7 359.9L591.7 361L592.7 362.5L593.7 363.5L594.7 364.9L595.7 366.1L596.7 367.5L597.7 368.5L598.7 370.1L599.7 371L600.7 372.4L601.7 373.5L602.7 374.5L603.7 375.5L604.7 376L605.7 376.5L606.7 377L607.7 377.4L608.7 378.1L609.7 378L610.7 378L611.7 377.5L612.7 377.5L613.7 377L614.7 376.5L615.7 375.6L616.7 375L617.7 373.9L618.7 373.5L619.7 372.5L620.7 371.5L621.7 370.5L622.7 369.5L623.7 368.5L624.7 368L625.7 367L626.7 365.9L627.7 365.5L628.7 365L629.7 364.1L630.7 363.5L631.7 363.5L632.7 363L633.7 362.9L634.7 362.9L635.7 362.9L636.7 363.1L637.7 362.9L638.7 363.5L639.7 364.1L640.7 364.5L641.7 365L642.7 365.5L643.7 366L644.7 367L645.7 367.5L646.7 368.5L647.7 369L648.7 370L649.7 370.5L650.7 371L651.7 371.9L652.7 372.4L653.7 373L654.7 373.5L655.7 374L656.7 373.9L657.7 374.5L658.7 374.5L659.7 374.5L660.7 374.4L661.7 374.5L662.7 374L663.7 374L664.7 373.6L665.7 373.1L666.7 372.9L667.7 372.5L668.7 372L669.7 371L670.7 370.6L671.7 370L672.7 369.5L673.7 369L674.7 368.5L675.7 367.5L676.7 367L677.7 366.6L678.7 366.5L679.7 366L680.7 365.6L681.7 365.5L682.7 365L683.7 365L684.7 365L685.7 365.1L686.7 365L687.7 365.5L688.7 365.5L689.7 365.4L690.7 365.9L691.7 366.5L692.7 367L693.7 367.5L694.7 368L695.7 368.5L696.7 369L697.7 369.5L698.7 369.5L699.7 369.9L700.7 370.5L701.7 370.9L702.7 371.5L703.7 372L704.7 372L705.7 372.5L706.7 372.5L707.7 373L708.7 372.9L709.7 373L710.7 373L711.7 373L712.7 372.4L713.7 372.5L714.7 372.5L715.7 371.9L716.7 371.5L717.7 371.5L718.7 371L719.7 370.4L720.7 370L721.7 369.5L722.7 369.5L723.7 369L724.7 368.5L725.7 368L726.7 367.5L727.7 367.5L728.7 367L729.7 367.1L730.7 366.5L731.7 366.5L732.7 366.5L733.7 366L734.7 366L735.7 366L736.7 366L737.7 366.5L738.7 366.4L739.7 366.5L740.7 367L741.7 367.5L742.7 367.5L743.7 368.1L744.7 368L745.7 368.5L746.7 369L747.7 369.5L748.7 369.4L749.7 370L750.7 370.6L751.7 370.6L752.7 371.1L753.7 371.6L754.7 371.5L755.7 371.4L756.7 372.1L757.7 372.1L758.7 372L759.7 371.9L760.7 372.1L761.7 372.1L762.7 372L763.7 371.5L764.7 371.5L765.7 371.5L766.7 371.1L767.7 371L768.7 370.5L769.7 370L770.7 369.9L771.7 369.5L772.7 369.2L773.7 369L774.7 368.6L775.7 368.6L776.7 368.1L777.7 368L778.7 367.5L779.7 367.5L780.7 366.9L781.7 367L782.7 367L783.7 366.9L784.7 367L785.7 367L786.7 367.1L787.7 367L788.7 367L789.7 367.4L790.7 367.5L791.7 368L792.7 368.1L793.7 368.4L794.7 368.6L795.7 369L796.7 369L797.7 369.6L798.7 369.4L799.7 370L800.7 370L801.7 370.6L802.7 370.6L803.7 371.1L804.7 371L805.7 371L806.7 371.6L807.7 371.5L808.7 371.5L809.7 371.5L810.7 371.5L811.7 371.4L812.7 371.6L813.7 371L814.7 370.9L815.7 369.5L816.7 369.5L817.7 369.5L818.7 369.5L819.7 368.6L820.7 369.5L821.7 369.5L822.7 369.6L823.7 369.5L824.7 369.5L825.7 369.5L826.7 369.6L827.7 369.5L828.7 369.5L829.7 369.5L830.7 369.6L831.7 369.5L832.7 369.5L833.7 369.6L834.7 369.5L835.7 369.5L836.7 369.5L837.7 369.4L838.7 369.5L839.7 369.6L840.7 369.4L841.7 369.4L842.7 369.6L843.7 369.5L844.7 368.6L845.7 369.4L846.7 369.4L847.7 369.5L848.7 369.5L849.7 369.5L850.7 369.4L851.7 369.5L852.7 369.5L853.7 368.5L854.7 369.6L855.7 369.5L856.7 369.5L857.7 369.5L858.7 369.6L859.7 369.5L860.7 369.5L861.7 369.5L862.7 369.5L863.7 369.5L864.7 369.6L865.7 369.4L866.7 369.5L867.7 369.5L868.7 369.5L869.7 369.4L870.7 369.5L871.7 369.5L872.7 369.6L873.7 369.5L874.7 369.4L875.7 369.4L876.7 369.6L877.7 369.5L878.7 369.5L879.7 369.5L880.7 369.4L881.7 369.4L882.7 369.6L883.7 369.4L884.7 369.5L885.7 369.5L886.7 369.5L887.7 369.5L888.7 368.6L889.7 369.5L890.7 369.6L891.7 369.5L892.7 369.5L893.7 369.5L894.7 369.5L895.7 369.5L896.7 369.6L897.7 369.5L898.7 369.5L899.7 369.5L900.7 369.5L901.7 369.5L902.7 369.5L903.7 369.5L904.7 369.5L905.7 369.4L906.7 369.6L907.7 369.5L908.7 369.5L909.7 368.7L910.7 369.5L911.7 369.4L912.7 369.5L913.7 369.4L914.7 369.5L915.7 369.4L916.7 369.5L917.7 369.5L918.7 369.5L919.7 369.5L920.7 369.4L921.7 369.6L922.7 369.5L923.7 369.5L924.7 369.4L925.7 369.5L926.7 369.4L927.7 369.4L928.7 369.5L929.7 369.5L930.7 369.5L931.7 369.6L932.7 369.5L933.7 369.5L934.7 369.5L935.7 369.4L936.7 369.5L937.7 369.6L938.7 369.4L939.7 369.5L940.7 369.5L941.7 369.4L942.7 369.5L943.7 369.5L944.7 369.5L945.7 369.5L946.7 369.5L947.7 369.5L948.7 369.5L949.7 369.5L950.7 369.6L951.7 369.4L952.7 369.5L953.7 369.5L954.7 369.5L955.7 369.5L956.7 369.5L957.7 369.6L958.7 369.5L959.7 369.5L960.7 369.4L961.7 369.5L962.7 369.5L963.7 369.5L964.7 369.5L965.7 369.4L966.7 369.5L967.7 369.5L968.7 369.5L969.7 369.6L970.7 369.5L971.7 369.5L972.7 369.5L973.7 369.5L974.7 369.5L975.7 369.5L976.7 369.4L977.7 369.4L978.7 369.5L979.7 369.5L980.7 369.5L981.7 369.5L982.7 369.5L983.7 369.6L984.7 369.4L985.7 369.5L986.7 369.5L987.7 369.5L988.7 369.5L989.7 369.4L990.7 369.5L991.7 369.5L992.7 369.6L993.7 369.5L994.7 369.5L995.7 369.4L996.7 369.6L997.7 369.5L998.7 369.5L999.7 369.5L1000.7 369.6L1001.7 369.5L1002.7 369.5L1003.7 369.5L1004.7 369.5L1005.7 369.6L1006.7 369.5L1007.7 369.5L1008.7 369.5L1009.7 369.6L1010.7 369.6L1011.7 369.5L1012.7 369.5L1013.7 369.5L1014.7 369.5L1015.7 369.5L1016.7 369.5L1017.7 369.5L1018.7 369.5L1019.7 369.5L1020.7 369.5L1021.7 368.5L1022.7 369.5L1023.7 369.4L1024.7 369.5L1025.7 369.5L1026.7 369.6L1027.7 369.5L1028.7 369.5L1029.7 369.5L1030.7 369.5L1031.7 369.4L1032.7 369.5L1033.7 369.5L1034.7 369.6L1035.7 369.4L1036.7 369.4L1037.7 369.5L1038.7 368.5L1039.7 369.5L1040.7 369.5L1041.7 369.5L1042.7 369.6L1043.7 369.5L1044.7 369.5L1045.7 369.4L1046.7 369.6L1047.7 369.4L1048.7 369.5L1049.7 369.5L1050.7 369.4L1051.7 369.5L1052.7 369.4L1053.7 369.5L1054.7 369.5L1055.7 369.5L1056.7 369.5L1057.7 369.6L1058.7 369.5L1059.7 369.5L1060.7 369.5L1061.7 369.5L1062.7 369.5L1063.7 369.5L1064.7 369.5L1065.7 369.5L1066.7 369.6L1067.7 369.5L1068.7 369.5L1069.7 369.5L1070.7 369.4L1071.7 369.5L1072.7 369.4L1073.7 369.5L1074.7 369.5L1075.7 369.5L1076.7 369.6L1077.7 368.7L1078.7 369.5L1079.7 369.5L1080.7 369.5L1081.7 369.5L1082.7 369.5L1083.7 369.5L1084.7 369.5L1085.7 369.5L1086.7 369.4L1087.7 369.6L1088.7 369.6L1089.7 369.5L1090.7 369.5L1091.7 369.5L1092.7 369.6L1093.7 369.5L1094.7 369.5L1095.7 369.5L1096.7 369.5L1097.7 369.5L1098.7 369.5L1099.7 369.4L1100.7 369.5L1101.7 369.6L1102.7 369.5L1103.7 369.4L1104.7 369.6L1105.7 369.6L1106.7 369.5L1107.7 369.5L1108.7 369.6L1109.7 369.4L1110.7 369.5L1111.7 369.4L1112.7 369.6L1113.7 369.5L1114.7 369.4L1115.7 369.6L1116.7 369.4L1117.7 369.5L1118.7 369.5L1119.7 369.5L1120.7 369.6L1121.7 369.4L1122.7 369.6L1123.7 369.5L1124.7 369.5L1125.7 369.6L1126.7 369.5L1127.7 369.4L1128.7 369.6L1129.7 369.5L1130.7 369.5L1131.7 369.5L1132.7 369.5L1133.7 369.5L1134.7 369.5L1135.7 369.5L1136.7 369.5L1137.7 369.6L1138.7 369.5L1139.7 369.5L1140.7 369.5L1141.7 369.5L1142.7 369.5L1143.7 369.5L1144.7 369.5L1145.7 369.4L1146.7 369.5L1147.7 369.5L1148.7 369.5L1149.7 369.4L1150.7 369.5L1151.7 369.4L1152.7 369.6L1153.7 369.5L1154.7 369.5L1155.7 369.5L1156.7 369.4L1157.7 369.5L1158.7 369.5L1159.7 369.5L1160.7 369.4L1161.7 369.5L1162.7 369.5L1163.7 369.4L1164.7 369.4L1165.7 369.6L1166.7 369.5L1167.7 369.5L1168.7 369.5L1169.7 369.4L1170.7 369.5L1171.7 369.5L1172.7 369.5L1173.7 369.4L1174.7 369.5L1175.7 369.4L1176.7 369.5L1177.7 369.5L1178.7 369.4L1179.7 369.5L1180.7 369.4L1181.7 369.5L1182.7 369.4L1183.7 369.6L1184.7 369.6L1185.7 369.5L1186.7 369.5L1187.7 369.5L1188.7 369.5L1189.7 369.4L1190.7 369.4L1191.7 369.5L1192.7 369.5L1193.7 369.6L1194.7 369.5L1195.7 369.6L1196.7 369.5L1197.7 369.6L1198.7 369.5L1199.7 369.5L1200.7 369.5L1201.7 369.5L1202.7 369.6L1203.7 369.5L1204.7 369.4L1205.7 369.6L1206.7 369.5L1207.7 369.4L1208.7 369.4L1209.7 369.4L1210.7 369.5L1211.7 369.6L1212.7 369.5L1213.7 369.5L1214.7 369.5L1215.7 369.4L1216.7 369.5L1217.7 369.5L1218.7 369.5L1219.7 369.5L1220.7 369.6L1221.7 369.5L1222.7 369.6L1223.7 369.4L1224.7 369.5L1225.7 369.6L1226.7 369.5L1227.7 368.6L1228.7 369.5L1229.7 369.5L1230.7 369.4L1231.7 369.5L1232.7 369.6L1233.7 369.5L1234.7 369.5L1235.7 369.5L1236.7 369.4L1237.7 369.5L1238.7 369.6L1239.7 369.6L1240.7 369.5L1241.7 369.5L1242.7 369.5L1243.7 368.6L1244.7 369.5L1245.7 369.5L1246.7 369.4L1247.7 369.5L1248.7 369.5L1249.7 369.5L1250.7 369.5L1251.7 369.5L1252.7 369.5L1253.7 369.5L1254.7 369.5L1255.7 369.5L1256.7 369.5L1257.7 369.4L1258.7 369.5L1259.7 369.5L1260.7 369.5L1261.7 369.5L1262.7 369.5L1263.7 369.4L1264.7 369.4L1265.7 369.5L1266.7 369.5" stroke="#c91f45" stroke-width="1.15" fill="none" stroke-linejoin="round"/>
<path d="M81.7 489.1L82.7 489.1L83.7 489.1L84.7 491L85.7 491L86.7 491L87.7 492.9L88.7 492.9L89.7 492.9L90.7 492.9L91.7 492.9L92.7 494.8L93.7 494.8L94.7 494.8L95.7 494.8L96.7 494.8L97.7 494.8L98.7 494.8L99.7 496.7L100.7 496.7L101.7 496.7L102.7 496.7L103.7 496.7L104.7 496.7L105.7 498.6L106.7 498.6L107.7 498.6L108.7 498.6L109.7 498.6L110.7 498.6L111.7 500.5L112.7 498.6L113.7 500.5L114.7 500.5L115.7 500.5L116.7 500.5L117.7 500.5L118.7 500.5L119.7 500.5L120.7 502.4L121.7 500.5L122.7 502.4L123.7 502.4L124.7 502.4L125.7 502.4L126.7 500.5L127.7 502.4L128.7 502.4L129.7 500.5L130.7 502.4L131.7 500.5L132.7 502.4L133.7 500.5L134.7 502.4L135.7 502.4L136.7 502.4L137.7 502.4L138.7 502.4L139.7 502.4L140.7 502.4L141.7 502.4L142.7 502.4L143.7 502.4L144.7 500.5L145.7 500.5L146.7 502.4L147.7 500.5L148.7 500.5L149.7 500.5L150.7 500.5L151.7 500.5L152.7 500.5L153.7 500.5L154.7 500.5L155.7 500.5L156.7 498.6L157.7 500.5L158.7 498.6L159.7 498.6L160.7 498.6L161.7 498.6L162.7 498.6L163.7 496.7L164.7 496.7L165.7 498.6L166.7 496.7L167.7 496.7L168.7 496.7L169.7 496.7L170.7 496.7L171.7 494.8L172.7 494.8L173.7 494.8L174.7 494.8L175.7 494.8L176.7 492.9L177.7 494.8L178.7 492.9L179.7 492.9L180.7 492.9L181.7 492.9L182.7 491L183.7 491L184.7 491L185.7 489.1L186.7 491L187.7 491L188.7 491L189.7 489.1L190.7 489.1L191.7 487.2L192.7 487.2L193.7 487.2L194.7 487.2L195.7 487.2L196.7 485.3L197.7 485.3L198.7 485.3L199.7 485.3L200.7 483.4L201.7 483.4L202.7 481.5L203.7 481.5L204.7 481.5L205.7 481.5L206.7 479.5L207.7 479.5L208.7 479.5L209.7 479.5L210.7 477.6L211.7 477.6L212.7 477.6L213.7 475.7L214.7 473.8L215.7 473.8L216.7 473.8L217.7 473.8L218.7 473.8L219.7 471.9L220.7 471.9L221.7 470L222.7 470L223.7 470L224.7 468.1L225.7 468.1L226.7 468.1L227.7 466.2L228.7 466.2L229.7 464.3L230.7 466.2L231.7 464.3L232.7 462.4L233.7 462.4L234.7 462.4L235.7 460.5L236.7 462.4L237.7 460.5L238.7 458.6L239.7 458.6L240.7 456.7L241.7 456.7L242.7 456.7L243.7 454.8L244.7 454.8L245.7 454.8L246.7 452.9L247.7 452.9L248.7 452.9L249.7 452.9L250.7 451L251.7 451L252.7 449.1L253.7 449.1L254.7 447.2L255.7 447.2L256.7 447.2L257.7 445.3L258.7 445.3L259.7 445.3L260.7 443.4L261.7 443.4L262.7 441.5L263.7 441.5L264.7 441.5L265.7 441.5L266.7 439.5L267.7 439.5L268.7 437.6L269.7 437.6L270.7 437.6L271.7 435.7L272.7 435.7L273.7 433.8L274.7 433.8L275.7 433.8L276.7 431.9L277.7 431.9L278.7 431.9L279.7 430L280.7 430L281.7 430L282.7 428.1L283.7 428.1L284.7 426.2L285.7 426.2L286.7 426.2L287.7 424.3L288.7 424.3L289.7 424.3L290.7 422.4L291.7 422.4L292.7 422.4L293.7 420.5L294.7 420.5L295.7 420.5L296.7 418.6L297.7 418.6L298.7 418.6L299.7 418.6L300.7 416.7L301.7 416.7L302.7 414.8L303.7 414.8L304.7 414.8L305.7 414.8L306.7 412.9L307.7 414.8L308.7 412.9L309.7 411L310.7 412.9L311.7 411L312.7 411L313.7 411L314.7 409.1L315.7 409.1L316.7 409.1L317.7 407.2L318.7 409.1L319.7 407.2L320.7 407.2L321.7 407.2L322.7 405.3L323.7 405.3L324.7 405.3L325.7 403.4L326.7 403.4L327.7 403.4L328.7 403.4L329.7 403.4L330.7 401.5L331.7 401.5L332.7 401.5L333.7 401.5L334.7 401.5L335.7 399.6L336.7 399.6L337.7 399.6L338.7 399.6L339.7 399.6L340.7 399.6L341.7 397.6L342.7 397.6L343.7 397.6L344.7 397.6L345.7 397.6L346.7 397.6L347.7 397.6L348.7 397.6L349.7 397.6L350.7 395.7L351.7 395.7L352.7 395.7L353.7 395.7L354.7 395.7L355.7 395.7L356.7 393.8L357.7 395.7L358.7 395.7L359.7 395.7L360.7 393.8L361.7 393.8L362.7 395.7L363.7 393.8L364.7 393.8L365.7 393.8L366.7 393.8L367.7 393.8L368.7 393.8L369.7 393.8L370.7 393.8L371.7 393.8L372.7 393.8L373.7 393.8L374.7 393.8L375.7 393.8L376.7 393.8L377.7 393.8L378.7 393.8L379.7 393.8L380.7 393.8L381.7 393.8L382.7 393.8L383.7 395.7L384.7 393.8L385.7 393.8L386.7 393.8L387.7 395.7L388.7 395.7L389.7 393.8L390.7 395.7L391.7 395.7L392.7 395.7L393.7 395.7L394.7 395.7L395.7 395.7L396.7 395.7L397.7 397.6L398.7 397.6L399.7 397.6L400.7 397.6L401.7 397.6L402.7 397.6L403.7 397.6L404.7 399.6L405.7 397.6L406.7 399.6L407.7 399.6L408.7 399.6L409.7 399.6L410.7 399.6L411.7 399.6L412.7 401.5L413.7 401.5L414.7 401.5L415.7 401.5L416.7 403.4L417.7 401.5L418.7 403.4L419.7 403.4L420.7 403.4L421.7 405.3L422.7 405.3L423.7 405.3L424.7 405.3L425.7 407.2L426.7 407.2L427.7 407.2L428.7 409.1L429.7 407.2L430.7 409.1L431.7 409.1L432.7 411L433.7 411L434.7 411L435.7 411L436.7 412.9L437.7 412.9L438.7 412.9L439.7 412.9L440.7 414.8L441.7 412.9L442.7 414.8L443.7 416.7L444.7 416.7L445.7 416.7L446.7 418.6L447.7 418.6L448.7 418.6L449.7 418.6L450.7 420.5L451.7 420.5L452.7 420.5L453.7 422.4L454.7 422.4L455.7 422.4L456.7 422.4L457.7 422.4L458.7 424.3L459.7 424.3L460.7 426.2L461.7 426.2L462.7 428.1L463.7 428.1L464.7 428.1L465.7 430L466.7 430L467.7 430L468.7 431.9L469.7 431.9L470.7 433.8L471.7 433.8L472.7 433.8L473.7 433.8L474.7 435.7L475.7 435.7L476.7 435.7L477.7 437.6L478.7 437.6L479.7 439.5L480.7 439.5L481.7 439.5L482.7 441.5L483.7 441.5L484.7 441.5L485.7 443.4L486.7 443.4L487.7 445.3L488.7 445.3L489.7 445.3L490.7 447.2L491.7 447.2L492.7 447.2L493.7 449.1L494.7 449.1L495.7 449.1L496.7 451L497.7 452.9L498.7 452.9L499.7 452.9L500.7 452.9L501.7 454.8L502.7 454.8L503.7 456.7L504.7 456.7L505.7 456.7L506.7 456.7L507.7 458.6L508.7 458.6L509.7 460.5L510.7 460.5L511.7 462.4L512.7 462.4L513.7 462.4L514.7 464.3L515.7 464.3L516.7 466.2L517.7 466.2L518.7 466.2L519.7 466.2L520.7 468.1L521.7 468.1L522.7 468.1L523.7 470L524.7 470L525.7 471.9L526.7 471.9L527.7 471.9L528.7 473.8L529.7 473.8L530.7 473.8L531.7 475.7L532.7 475.7L533.7 475.7L534.7 475.7L535.7 477.6L536.7 477.6L537.7 477.6L538.7 479.5L539.7 479.5L540.7 479.5L541.7 481.5L542.7 481.5L543.7 481.5L544.7 483.4L545.7 483.4L546.7 483.4L547.7 483.4L548.7 483.4L549.7 485.3L550.7 485.3L551.7 487.2L552.7 487.2L553.7 487.2L554.7 487.2L555.7 489.1L556.7 487.2L557.7 489.1L558.7 489.1L559.7 489.1L560.7 491L561.7 491L562.7 491L563.7 491L564.7 491L565.7 492.9L566.7 492.9L567.7 492.9L568.7 494.8L569.7 494.8L570.7 494.8L571.7 494.8L572.7 494.8L573.7 494.8L574.7 496.7L575.7 496.7L576.7 496.7L577.7 496.7L578.7 496.7L579.7 496.7L580.7 498.6L581.7 498.6L582.7 498.6L583.7 498.6L584.7 498.6L585.7 498.6L586.7 498.6L587.7 498.6L588.7 500.5L589.7 498.6L590.7 500.5L591.7 500.5L592.7 500.5L593.7 500.5L594.7 500.5L595.7 500.5L596.7 500.5L597.7 502.4L598.7 500.5L599.7 502.4L600.7 502.4L601.7 500.5L602.7 500.5L603.7 502.4L604.7 502.4L605.7 502.4L606.7 500.5L607.7 502.4L608.7 502.4L609.7 502.4L610.7 502.4L611.7 502.4L612.7 500.5L613.7 502.4L614.7 502.4L615.7 502.4L616.7 500.5L617.7 502.4L618.7 502.4L619.7 502.4L620.7 502.4L621.7 500.5L622.7 500.5L623.7 500.5L624.7 502.4L625.7 500.5L626.7 500.5L627.7 500.5L628.7 500.5L629.7 500.5L630.7 500.5L631.7 500.5L632.7 498.6L633.7 498.6L634.7 498.6L635.7 498.6L636.7 498.6L637.7 498.6L638.7 498.6L639.7 498.6L640.7 498.6L641.7 498.6L642.7 496.7L643.7 496.7L644.7 496.7L645.7 496.7L646.7 496.7L647.7 494.8L648.7 496.7L649.7 496.7L650.7 494.8L651.7 494.8L652.7 494.8L653.7 492.9L654.7 492.9L655.7 492.9L656.7 492.9L657.7 492.9L658.7 491L659.7 491L660.7 491L661.7 491L662.7 489.1L663.7 489.1L664.7 489.1L665.7 489.1L666.7 487.2L667.7 487.2L668.7 487.2L669.7 487.2L670.7 487.2L671.7 485.3L672.7 485.3L673.7 485.3L674.7 485.3L675.7 483.4L676.7 483.4L677.7 481.5L678.7 481.5L679.7 481.5L680.7 479.5L681.7 479.5L682.7 479.5L683.7 479.5L684.7 479.5L685.7 477.6L686.7 477.6L687.7 477.6L688.7 475.7L689.7 475.7L690.7 475.7L691.7 473.8L692.7 473.8L693.7 473.8L694.7 471.9L695.7 471.9L696.7 470L697.7 470L698.7 470L699.7 470L700.7 470L701.7 468.1L702.7 468.1L703.7 466.2L704.7 466.2L705.7 466.2L706.7 464.3L707.7 464.3L708.7 464.3L709.7 462.4L710.7 462.4L711.7 460.5L712.7 460.5L713.7 458.6L714.7 458.6L715.7 458.6L716.7 458.6L717.7 456.7L718.7 456.7L719.7 454.8L720.7 454.8L721.7 454.8L722.7 452.9L723.7 451L724.7 452.9L725.7 451L726.7 451L727.7 449.1L728.7 449.1L729.7 449.1L730.7 447.2L731.7 447.2L732.7 447.2L733.7 445.3L734.7 445.3L735.7 443.4L736.7 443.4L737.7 443.4L738.7 443.4L739.7 441.5L740.7 441.5L741.7 439.5L742.7 439.5L743.7 439.5L744.7 437.6L745.7 437.6L746.7 435.7L747.7 435.7L748.7 435.7L749.7 433.8L750.7 433.8L751.7 433.8L752.7 431.9L753.7 430L754.7 430L755.7 430L756.7 430L757.7 430L758.7 428.1L759.7 428.1L760.7 428.1L761.7 426.2L762.7 426.2L763.7 424.3L764.7 424.3L765.7 424.3L766.7 424.3L767.7 422.4L768.7 422.4L769.7 422.4L770.7 420.5L771.7 420.5L772.7 420.5L773.7 418.6L774.7 416.7L775.7 416.7L776.7 416.7L777.7 416.7L778.7 414.8L779.7 414.8L780.7 414.8L781.7 414.8L782.7 412.9L783.7 412.9L784.7 412.9L785.7 412.9L786.7 411L787.7 411L788.7 409.1L789.7 409.1L790.7 409.1L791.7 409.1L792.7 407.2L793.7 407.2L794.7 407.2L795.7 407.2L796.7 407.2L797.7 405.3L798.7 405.3L799.7 405.3L800.7 405.3L801.7 405.3L802.7 403.4L803.7 403.4L804.7 403.4L805.7 403.4L806.7 403.4L807.7 401.5L808.7 401.5L809.7 401.5L810.7 401.5L811.7 401.5L812.7 399.6L813.7 399.6L814.7 399.6L815.7 399.6L816.7 399.6L817.7 399.6L818.7 397.6L819.7 397.6L820.7 397.6L821.7 397.6L822.7 397.6L823.7 397.6L824.7 395.7L825.7 395.7L826.7 397.6L827.7 395.7L828.7 395.7L829.7 395.7L830.7 395.7L831.7 395.7L832.7 395.7L833.7 393.8L834.7 395.7L835.7 393.8L836.7 393.8L837.7 393.8L838.7 395.7L839.7 395.7L840.7 393.8L841.7 395.7L842.7 395.7L843.7 393.8L844.7 393.8L845.7 393.8L846.7 393.8L847.7 393.8L848.7 393.8L849.7 393.8L850.7 393.8L851.7 393.8L852.7 393.8L853.7 393.8L854.7 395.7L855.7 393.8L856.7 393.8L857.7 395.7L858.7 393.8L859.7 393.8L860.7 393.8L861.7 393.8L862.7 393.8L863.7 395.7L864.7 395.7L865.7 395.7L866.7 395.7L867.7 395.7L868.7 395.7L869.7 395.7L870.7 395.7L871.7 397.6L872.7 397.6L873.7 397.6L874.7 397.6L875.7 397.6L876.7 397.6L877.7 397.6L878.7 397.6L879.7 397.6L880.7 397.6L881.7 397.6L882.7 399.6L883.7 399.6L884.7 399.6L885.7 399.6L886.7 399.6L887.7 401.5L888.7 401.5L889.7 401.5L890.7 401.5L891.7 401.5L892.7 403.4L893.7 403.4L894.7 403.4L895.7 403.4L896.7 405.3L897.7 405.3L898.7 405.3L899.7 405.3L900.7 407.2L901.7 407.2L902.7 407.2L903.7 407.2L904.7 407.2L905.7 409.1L906.7 409.1L907.7 409.1L908.7 411L909.7 411L910.7 411L911.7 411L912.7 411L913.7 412.9L914.7 412.9L915.7 412.9L916.7 412.9L917.7 414.8L918.7 414.8L919.7 414.8L920.7 416.7L921.7 416.7L922.7 416.7L923.7 418.6L924.7 418.6L925.7 418.6L926.7 420.5L927.7 420.5L928.7 420.5L929.7 422.4L930.7 422.4L931.7 422.4L932.7 422.4L933.7 424.3L934.7 426.2L935.7 426.2L936.7 426.2L937.7 426.2L938.7 428.1L939.7 428.1L940.7 428.1L941.7 430L942.7 430L943.7 431.9L944.7 431.9L945.7 431.9L946.7 433.8L947.7 433.8L948.7 433.8L949.7 433.8L950.7 435.7L951.7 435.7L952.7 437.6L953.7 437.6L954.7 437.6L955.7 439.5L956.7 439.5L957.7 441.5L958.7 441.5L959.7 441.5L960.7 441.5L961.7 443.4L962.7 445.3L963.7 445.3L964.7 445.3L965.7 445.3L966.7 447.2L967.7 449.1L968.7 449.1L969.7 449.1L970.7 449.1L971.7 451L972.7 451L973.7 451L974.7 452.9L975.7 452.9L976.7 454.8L977.7 454.8L978.7 454.8L979.7 454.8L980.7 456.7L981.7 456.7L982.7 456.7L983.7 458.6L984.7 460.5L985.7 460.5L986.7 460.5L987.7 460.5L988.7 462.4L989.7 462.4L990.7 464.3L991.7 464.3L992.7 464.3L993.7 466.2L994.7 466.2L995.7 468.1L996.7 468.1L997.7 468.1L998.7 470L999.7 470L1000.7 470L1001.7 470L1002.7 471.9L1003.7 471.9L1004.7 473.8L1005.7 473.8L1006.7 473.8L1007.7 473.8L1008.7 475.7L1009.7 475.7L1010.7 477.6L1011.7 477.6L1012.7 477.6L1013.7 477.6L1014.7 479.5L1015.7 479.5L1016.7 481.5L1017.7 481.5L1018.7 481.5L1019.7 481.5L1020.7 483.4L1021.7 483.4L1022.7 483.4L1023.7 485.3L1024.7 485.3L1025.7 485.3L1026.7 485.3L1027.7 487.2L1028.7 487.2L1029.7 487.2L1030.7 487.2L1031.7 489.1L1032.7 487.2L1033.7 489.1L1034.7 489.1L1035.7 489.1L1036.7 491L1037.7 491L1038.7 491L1039.7 491L1040.7 492.9L1041.7 492.9L1042.7 492.9L1043.7 492.9L1044.7 494.8L1045.7 494.8L1046.7 494.8L1047.7 494.8L1048.7 494.8L1049.7 494.8L1050.7 496.7L1051.7 496.7L1052.7 496.7L1053.7 496.7L1054.7 496.7L1055.7 496.7L1056.7 498.6L1057.7 498.6L1058.7 498.6L1059.7 498.6L1060.7 498.6L1061.7 498.6L1062.7 500.5L1063.7 498.6L1064.7 500.5L1065.7 500.5L1066.7 500.5L1067.7 502.4L1068.7 500.5L1069.7 500.5L1070.7 500.5L1071.7 500.5L1072.7 500.5L1073.7 500.5L1074.7 502.4L1075.7 502.4L1076.7 502.4L1077.7 502.4L1078.7 502.4L1079.7 500.5L1080.7 502.4L1081.7 502.4L1082.7 502.4L1083.7 502.4L1084.7 502.4L1085.7 502.4L1086.7 502.4L1087.7 502.4L1088.7 502.4L1089.7 502.4L1090.7 502.4L1091.7 502.4L1092.7 502.4L1093.7 500.5L1094.7 502.4L1095.7 502.4L1096.7 502.4L1097.7 502.4L1098.7 500.5L1099.7 502.4L1100.7 500.5L1101.7 500.5L1102.7 500.5L1103.7 500.5L1104.7 500.5L1105.7 498.6L1106.7 500.5L1107.7 500.5L1108.7 498.6L1109.7 498.6L1110.7 498.6L1111.7 498.6L1112.7 498.6L1113.7 498.6L1114.7 498.6L1115.7 498.6L1116.7 496.7L1117.7 498.6L1118.7 496.7L1119.7 496.7L1120.7 496.7L1121.7 496.7L1122.7 496.7L1123.7 496.7L1124.7 496.7L1125.7 494.8L1126.7 494.8L1127.7 494.8L1128.7 494.8L1129.7 494.8L1130.7 492.9L1131.7 492.9L1132.7 492.9L1133.7 491L1134.7 491L1135.7 491L1136.7 491L1137.7 491L1138.7 489.1L1139.7 489.1L1140.7 489.1L1141.7 489.1L1142.7 489.1L1143.7 487.2L1144.7 487.2L1145.7 487.2L1146.7 485.3L1147.7 485.3L1148.7 485.3L1149.7 485.3L1150.7 483.4L1151.7 483.4L1152.7 483.4L1153.7 481.5L1154.7 481.5L1155.7 481.5L1156.7 481.5L1157.7 481.5L1158.7 479.5L1159.7 477.6L1160.7 477.6L1161.7 477.6L1162.7 475.7L1163.7 475.7L1164.7 475.7L1165.7 473.8L1166.7 475.7L1167.7 473.8L1168.7 473.8L1169.7 471.9L1170.7 471.9L1171.7 471.9L1172.7 470L1173.7 470L1174.7 470L1175.7 468.1L1176.7 468.1L1177.7 468.1L1178.7 466.2L1179.7 466.2L1180.7 466.2L1181.7 466.2L1182.7 464.3L1183.7 464.3L1184.7 462.4L1185.7 462.4L1186.7 462.4L1187.7 460.5L1188.7 460.5L1189.7 458.6L1190.7 458.6L1191.7 456.7L1192.7 458.6L1193.7 456.7L1194.7 456.7L1195.7 454.8L1196.7 454.8L1197.7 454.8L1198.7 452.9L1199.7 452.9L1200.7 451L1201.7 451L1202.7 451L1203.7 449.1L1204.7 449.1L1205.7 449.1L1206.7 447.2L1207.7 447.2L1208.7 445.3L1209.7 445.3L1210.7 445.3L1211.7 443.4L1212.7 443.4L1213.7 443.4L1214.7 441.5L1215.7 441.5L1216.7 441.5L1217.7 439.5L1218.7 437.6L1219.7 437.6L1220.7 437.6L1221.7 435.7L1222.7 435.7L1223.7 435.7L1224.7 433.8L1225.7 433.8L1226.7 433.8L1227.7 431.9L1228.7 431.9L1229.7 431.9L1230.7 430L1231.7 430L1232.7 430L1233.7 428.1L1234.7 428.1L1235.7 426.2L1236.7 426.2L1237.7 426.2L1238.7 424.3L1239.7 424.3L1240.7 424.3L1241.7 424.3L1242.7 422.4L1243.7 422.4L1244.7 422.4L1245.7 420.5L1246.7 420.5L1247.7 418.6L1248.7 418.6L1249.7 418.6L1250.7 418.6L1251.7 416.7L1252.7 416.7L1253.7 416.7L1254.7 414.8L1255.7 414.8L1256.7 414.8L1257.7 412.9L1258.7 414.8L1259.7 412.9L1260.7 411L1261.7 412.9L1262.7 411L1263.7 411L1264.7 411L1265.7 409.1L1266.7 411" stroke="#44cf26" stroke-width="1.3" fill="none" stroke-linejoin="round"/>
<path d="M81.7 520L82.7 517.9L84 521.4L85.8 520.3L87.8 520.3L89 520L89 570.3L89.9 571.9L89.9 600.6L90.9 600.7L92 600.6L94.3 600.5L96.4 600.3L97.7 600L99 600.3L100.2 600.3L102.2 600.4L104.7 600.9L106.3 600.7L108.7 600.3L109.7 599.5L112.2 600.3L114.3 600.4L115.8 600.8L117 600.5L118.9 600.6L120.8 600.5L122.4 600.6L124 600.6L126.2 600.6L127.3 600.8L128.9 600.5L130.9 600.8L132.6 600.4L133.9 600.6L135 600.6L136.6 600.6L138.4 600.7L139.8 600.6L142.2 600.6L143.3 600.5L145.5 600.6L146.6 600.5L148.1 600.7L149.9 600.7L151.9 600.5L154.3 599.6L156.2 600.7L157.7 600.7L159.1 600.5L160.7 600.5L161.8 600.6L163.2 600.6L163.9 600.6L163.9 570.4L164.8 568.8L164.8 520L165.8 519L167.6 520.1L168.7 519.6L169.8 519.7L171.8 520.2L173.9 520L176 520.4L177.4 520.2L178.8 520.2L181 520.4L182.7 520.1L184.3 520.1L186.7 519.9L188.9 518.7L189.9 520.2L192.4 520.1L194.8 520L197.2 519.8L199.6 519.9L201.4 520L202.9 519.9L204.3 520L206.1 519.9L207.9 520.1L210 519.9L211.4 519.8L213.2 519.9L215.2 520.1L217 520L218.5 519.9L220 520L221.4 519.8L223.4 519.9L224.8 519.9L226.3 520.3L228.3 520.1L230.5 520L232.7 520.1L234.5 519.9L236.5 520.1L238.8 520.1L240.3 519.9L240.9 520L240.9 541.1L241.8 542.7L241.8 600.6L242.8 601.5L244.2 601.1L246.6 600.5L248.1 600.7L250.5 600.4L251.9 599.8L253.2 600.7L254.6 600.2L255.7 600.6L257.6 600.4L258.7 600.5L260.4 600.1L262.7 600.8L265 599.9L266.2 600.6L267.7 600.8L268.9 600.8L270.3 600.6L271.8 600.8L273.2 600.6L275 600.6L276.3 600.6L278.5 600.7L280.7 600.5L282.1 600.6L283.2 600.5L284.5 600.6L286.1 600.6L287.8 600.6L290.3 600.8L292.1 600.5L293.4 600.6L294.9 600.5L296.3 600.7L298.8 600.6L300.6 600.6L302.1 600.7L304.5 600.5L306.1 600.7L307.8 600.7L309.1 600.6L310.7 600.5L311.7 600.7L313.7 600.9L315.5 600.6L315.8 600.6L315.8 546.8L316.7 545.2L316.7 520L317.7 519.1L318.9 519.9L320.3 519.9L321.5 519.7L323 520L324.8 519.7L326.1 519.7L328.4 519.6L330.1 519.8L332.3 519.9L333.3 519.9L335.8 520L337.1 519.8L338.8 520.5L341.1 520.1L342.9 520.1L344.4 519L346 520L347 520L349 519.9L350.4 520.2L352.3 519L354.4 520L355.5 520.1L357.8 519.9L359.8 519.8L361.1 520L362.5 520L364.6 519.8L365.9 520.1L367.7 520.3L368.7 520L370.3 519.8L371.8 520L373.6 519.8L376 519.9L377.3 520L378.8 520L380.7 520L382.3 519.9L383.3 520L384.7 520.1L386.6 519.9L388.8 519.9L390.8 520.2L392.5 519.9L392.8 520L392.8 555.4L393.7 557L393.7 600.6L394.7 601.1L395.9 600.7L397.1 601.1L399 600.7L400.6 600.9L402.9 601.2L403.9 600.7L405.8 600.4L407.2 600.6L408.6 600.3L410.3 601.2L411.5 600.5L413.8 601.6L416.1 599.9L418.3 600.7L419.6 601.1L420.9 600.6L422.6 600.6L424.7 600.4L426.4 600.7L427.9 600.6L429.9 600.5L431.8 600.6L433.9 600.5L436.1 600.5L438.3 600.8L439.4 600.5L441.8 600.9L443 600.4L445.3 600.6L447.1 600.6L448.4 600.7L450.3 600.4L451.5 600.6L453.1 600.6L454.9 600.6L456 600.6L457.4 600.6L458.6 600.4L461.1 600.5L463.1 600.8L465.1 600.6L466.8 600.4L467.7 600.6L467.7 538.3L468.6 536.7L468.6 520L469.6 519.2L471.3 519.9L472.8 519.7L474.7 520L476.1 520.1L478 519.9L479.9 520.1L482.2 520.1L483.2 520.3L485.4 520.2L487.1 520L488.7 519.9L490.9 520.1L492 520.6L493.4 520.1L495.1 520.1L497.4 519.9L499.6 520L501.7 520.2L503.6 520.2L504.8 520.2L506.9 520.1L508.6 520L510.5 520.1L511.9 520L513.6 520L514.8 519.9L516.4 520L518.7 520L521.2 520.3L522.6 520.1L525.1 519.9L527.3 520L528.6 520L530.5 520L531.6 520.1L532.8 519.8L533.9 520L536.3 519.9L538.3 520.1L540.3 519.9L541.6 520.1L544 520.1L544.6 520L544.6 545.8L545.6 547.4L545.6 600.6L546.6 600.9L548.6 601L550 600.4L551.7 600.5L554 600.8L556 600.7L557.3 600.7L558.5 600.8L560.7 600.9L563 600.5L564 600.8L565.6 601.1L566.6 600.6L568 601.4L569.6 600.7L570.7 601.2L573.2 600.7L574.4 600.6L576.6 600.6L578.4 600.6L579.8 600.5L581.1 600.6L583.1 600.5L585.4 600.7L587.8 600.5L589 600.5L591 600.7L593.4 600.6L595.5 600.5L596.7 600.5L598.7 600.5L599.9 600.7L602.3 600.7L604 600.6L606.4 600.5L607.5 600.6L609.2 600.6L610.8 600.7L612.1 600.4L613.9 600.5L615.4 600.7L617.9 599.5L619.5 600.6L619.5 580.1L620.5 578.5L620.5 520L621.5 519.2L623.2 518.9L625.1 519.1L627 519.5L628.8 520.3L629.9 519.8L631.7 520.6L633.6 520.5L634.7 519.5L636.7 519.9L639 520.5L640.9 519.9L642.8 520.1L644.6 520.3L646.5 519.9L647.5 519.7L650 520L651.7 519.9L654.1 519L656.2 519.9L658.5 519.8L659.9 520L662 519.8L664.1 520L666.4 520L668 520.2L669.7 519.8L672.1 520L674.3 520.1L675.5 520L677.5 520L679 520.1L680.8 520L683.2 520.1L684.9 519.9L686.1 520L688.4 520L690.8 520L692.5 520.2L694.7 520.3L695.9 520L696.5 520L696.5 540.4L697.5 542L697.5 600.6L698.5 601.5L700.4 600.4L702.3 600.5L703.3 600.7L704.6 600.6L706.7 600.6L708.7 600.7L709.9 600.3L711.2 601.5L712.8 601.1L714.4 601.1L715.6 600.8L716.9 600.4L718.6 600.5L720.9 600.7L722.3 600.5L724 600.5L726.2 600.6L728.1 600.6L729.8 600.6L731.5 600.5L733.5 600.6L734.7 600.8L737.2 600.6L739.1 600.4L740.7 600.5L742.4 600.7L743.8 600.7L745.9 600.5L747.2 600.5L749 600.8L750.4 600.6L752.1 600.8L753.1 600.4L755.2 600.5L757.2 600.4L758.7 600.6L760.7 600.7L762.3 600.5L763.5 600.7L765.7 600.7L767.6 600.5L769.5 600.3L771.1 600.6L771.5 600.6L771.5 534.4L772.4 532.8L772.4 520L773.4 518.7L775.6 519.1L777.7 520.1L779.4 519.9L781.2 520.1L783.2 520L785.6 520.9L787.1 519.8L788.3 520.2L789.9 520.1L791.5 520.2L792.7 520L795.1 520.3L797.2 519.8L799.3 520.2L800.7 520L803 519.9L804.4 520.8L806.7 520L808.1 519.8L809.5 520L811.4 519.9L813.9 518.7L815.7 520.2L817.7 519.9L819.7 519.9L821 520.1L822.5 520L824.5 520L826.7 520.2L828.6 520.1L829.9 519.9L832.3 520L834.7 520L835.9 519.9L837.8 520L839.3 520L841 519.9L843.1 519.9L845.1 519.8L847.2 520L848.4 520L848.4 547L849.4 548.6L849.4 600.6L850.4 601.8L852.4 600.5L854.9 600.4L856.4 600.5L858.1 599.5L859.8 600.4L860.9 600.8L862.8 600.6L865.2 600.8L866.6 600.5L867.9 600.4L869.7 600.8L872 600.9L873.1 600.5L874.8 599.5L875.9 600.6L877.7 600.7L879.9 600.7L881 600.7L883.2 600.3L884.8 600.6L886.3 600.8L888.1 600.6L889.3 600.7L891.2 600.4L893.6 600.8L895.1 600.7L896.7 600.6L898.3 600.6L900 600.6L901.1 600.5L902.2 600.7L904.6 600.5L907.1 600.7L909 599.8L910.6 600.4L911.7 600.5L913.1 600.7L915.2 600.6L916.4 600.7L917.6 600.5L920 600.7L922.5 600.6L923.3 600.6L923.3 579.4L924.2 577.8L924.2 520L925.2 519L927 519.9L928.2 519.6L930.5 520L931.9 520L933.8 520.3L935.5 519.3L936.6 519.9L938 519.3L939.8 520.2L941.8 519.9L943.9 519.6L945.7 519.7L947.3 519.8L949.5 520.1L950.6 520L952.7 519.9L954.6 519.8L956.6 519.9L958.7 519.9L959.9 519.9L961.7 520.1L963.3 519.9L964.4 520.8L965.6 519.9L966.7 520L967.9 520.2L969.9 520.1L972.3 520L974.5 520.2L976.9 519.9L979.1 520L980.6 519.9L982.8 520.2L985.3 519.9L986.9 520L989.1 520.2L991.1 519L992.5 520.2L993.9 519.9L995.7 519.9L997 520.1L998.5 520.3L1000.4 520L1000.4 538.5L1001.3 540.1L1001.3 600.6L1002.3 601.4L1004.2 599.4L1005.7 600.4L1008 600.5L1009.4 600.6L1011.4 600.2L1013.4 600.7L1015.4 600.4L1017.4 600.5L1019.7 600.4L1020.9 601L1022 600.8L1024.3 600.3L1025.7 601L1028 600.5L1030.3 600.5L1032.2 600.6L1034.4 600.6L1035.7 600.8L1036.8 600.7L1038.7 600.7L1040.9 600.6L1042 600.4L1043.9 600.5L1045.7 600.5L1046.8 600.4L1048.6 600.4L1050.8 600.4L1053.3 600.7L1054.9 600.6L1056.9 600.4L1059.3 600.7L1060.8 600.5L1062.7 600.6L1064.3 600.8L1066.3 600.6L1068.6 600.7L1070.4 600.6L1072.2 600.7L1073.8 600.5L1075.2 600.6L1075.2 564.8L1076.2 563.2L1076.2 520L1077.2 519L1078.7 520.3L1079.7 519.1L1080.9 519.9L1082.1 520.5L1084.3 519.9L1085.8 520.1L1087 519.9L1088.8 520.1L1090.5 520L1092.9 519.9L1095.2 520L1097.1 519.7L1098.5 520.4L1100.1 520.3L1101.2 519.9L1103.6 519.6L1104.8 520L1106.3 519.8L1108.5 519.8L1110 520L1112.1 520.1L1113.7 519.9L1115.9 519.9L1118.2 520L1119.7 520.1L1120.7 520L1122.5 519.9L1124.4 520L1126.7 520L1128.7 520L1130.7 518.9L1132.9 520L1134.4 520L1136.7 520L1138.6 519.1L1140.6 520L1142.7 519.8L1145 520L1146.7 519.8L1149.1 520.7L1151.2 519L1152.2 520L1152.2 578.4L1153.2 580L1153.2 600.6L1154.2 601.5L1156.6 600.6L1157.8 600.5L1159.2 601.4L1161.5 600.9L1163.2 600.5L1165.6 600.9L1167.7 600.6L1169.2 600.5L1170.9 601.1L1172.2 600.6L1173.2 600.6L1174.7 600.7L1176.5 600.4L1178.6 600.5L1180.3 599.5L1182.7 600.6L1184.6 600.6L1187 600.6L1188.4 600.5L1189.9 600.7L1192.3 600.5L1194.6 600.7L1196.7 600.6L1197.7 600.5L1200 600.3L1201.3 600.7L1202.3 600.6L1203.8 600.7L1204.9 600.4L1206 600.6L1208.1 600.5L1210.2 600.7L1211.3 600.6L1212.4 600.6L1214.2 600.5L1216 600.6L1217.1 600.8L1219.4 600.6L1220.7 600.7L1223.1 600.8L1225.4 600.4L1227.1 600.6L1227.1 564.4L1228 562.8L1228 520L1229 519.1L1230.2 520.3L1231.3 520L1233.5 519.9L1234.9 520.2L1237 520.1L1238.6 519.7L1240.7 519.9L1241.7 519.6L1243.2 520.2L1244.3 520.1L1246.7 519.9L1247.9 519.9L1249.1 519.3L1251.2 520.3L1252.5 519.8L1254.5 521L1256.9 520.1L1258.4 520.1L1260.3 520L1262.4 519.9L1264 520L1266.4 520.1L1267.2 520" stroke="#b9a628" stroke-width="1.1" fill="none" stroke-linejoin="round"/>
<path d="M427.5 126V609" stroke="#000" stroke-width="1.15" stroke-dasharray="17.8 6.3" stroke-dashoffset="9.2" fill="none"/>
<rect x="423.5" y="609" width="8" height="8" fill="#fff" stroke="#000" stroke-width="1.1"/>
<path d="M1073.5 126V609" stroke="#000" stroke-width="1.15" stroke-dasharray="17.8 6.3" stroke-dashoffset="9.2" fill="none"/>
<rect x="1069.5" y="609" width="8" height="8" fill="#fff" stroke="#000" stroke-width="1.1"/>
<path d="M199.4 195.6L204.4 200.6L199.4 205.6L194.4 200.6z" fill="#f0f020" stroke="#8a8a30" stroke-width="0.9"/>
<circle cx="1266.5" cy="613.2" r="5.2" fill="#1f9a78" stroke="#222" stroke-width="0.9"/>
<text x="40.6" y="127.8" font-size="11" fill="#3a4cc4" text-anchor="end" textLength="16" lengthAdjust="spacing">4.0</text>
<text x="40.6" y="176.69" font-size="11" fill="#3a4cc4" text-anchor="end" textLength="16" lengthAdjust="spacing">2.0</text>
<text x="40.6" y="225.58" font-size="11" fill="#3a4cc4" text-anchor="end" textLength="16" lengthAdjust="spacing">0.0</text>
<text x="40.6" y="274.47" font-size="11" fill="#3a4cc4" text-anchor="end" textLength="20.5" lengthAdjust="spacing">-2.0</text>
<text x="40.6" y="323.36" font-size="11" fill="#3a4cc4" text-anchor="end" textLength="20.5" lengthAdjust="spacing">-4.0</text>
<text x="40.6" y="372.25" font-size="11" fill="#3a4cc4" text-anchor="end" textLength="20.5" lengthAdjust="spacing">-6.0</text>
<text x="40.6" y="421.14" font-size="11" fill="#3a4cc4" text-anchor="end" textLength="20.5" lengthAdjust="spacing">-8.0</text>
<text x="40.6" y="470.03" font-size="11" fill="#3a4cc4" text-anchor="end" textLength="26.5" lengthAdjust="spacing">-10.0</text>
<text x="40.6" y="146" font-size="11" fill="#3a4cc4" text-anchor="end">V</text>
<text x="6.7" y="205.8" font-size="11" fill="#3a4cc4" textLength="37" lengthAdjust="spacing">2 V/div</text>
<text x="79.3" y="225.58" font-size="11" fill="#63d043" text-anchor="end" textLength="22" lengthAdjust="spacing">10.0</text>
<text x="79.3" y="274.47" font-size="11" fill="#63d043" text-anchor="end" textLength="16" lengthAdjust="spacing">8.0</text>
<text x="79.3" y="323.36" font-size="11" fill="#63d043" text-anchor="end" textLength="16" lengthAdjust="spacing">6.0</text>
<text x="79.3" y="372.25" font-size="11" fill="#63d043" text-anchor="end" textLength="16" lengthAdjust="spacing">4.0</text>
<text x="79.3" y="421.14" font-size="11" fill="#63d043" text-anchor="end" textLength="16" lengthAdjust="spacing">2.0</text>
<text x="79.3" y="470.03" font-size="11" fill="#63d043" text-anchor="end" textLength="16" lengthAdjust="spacing">0.0</text>
<text x="79.3" y="518.92" font-size="11" fill="#63d043" text-anchor="end" textLength="20.7" lengthAdjust="spacing">-2.0</text>
<text x="79.3" y="567.81" font-size="11" fill="#63d043" text-anchor="end" textLength="20.7" lengthAdjust="spacing">-4.0</text>
<text x="79.3" y="616.7" font-size="11" fill="#63d043" text-anchor="end" textLength="20.7" lengthAdjust="spacing">-6.0</text>
<text x="78.2" y="200.6" font-size="11" fill="#63d043" text-anchor="end">V</text>
<text x="44.3" y="205.8" font-size="11" fill="#63d043" textLength="37" lengthAdjust="spacing">2 V/div</text>
<text x="1269.3" y="372.25" font-size="11" fill="#d2ae38" textLength="22.8" lengthAdjust="spacing">10.0</text>
<text x="1269.3" y="421.14" font-size="11" fill="#d2ae38" textLength="16.3" lengthAdjust="spacing">8.0</text>
<text x="1269.3" y="470.03" font-size="11" fill="#d2ae38" textLength="16.3" lengthAdjust="spacing">6.0</text>
<text x="1269.3" y="518.92" font-size="11" fill="#d2ae38" textLength="16.3" lengthAdjust="spacing">4.0</text>
<text x="1269.3" y="567.81" font-size="11" fill="#d2ae38" textLength="16.3" lengthAdjust="spacing">2.0</text>
<text x="1269.3" y="616.7" font-size="11" fill="#d2ae38" textLength="16.3" lengthAdjust="spacing">0.0</text>
<text x="1269.3" y="348.8" font-size="11" fill="#d2ae38">V</text>
<text x="1268.3" y="205.8" font-size="11" fill="#d2ae38" textLength="37" lengthAdjust="spacing">2 V/div</text>
<text x="1308" y="127.8" font-size="11" fill="#d9245a" textLength="16.3" lengthAdjust="spacing">2.0</text>
<text x="1308" y="176.69" font-size="11" fill="#d9245a" textLength="16.3" lengthAdjust="spacing">1.6</text>
<text x="1308" y="225.58" font-size="11" fill="#d9245a" textLength="16.3" lengthAdjust="spacing">1.2</text>
<text x="1308" y="274.47" font-size="11" fill="#d9245a" textLength="16.3" lengthAdjust="spacing">0.8</text>
<text x="1308" y="323.36" font-size="11" fill="#d9245a" textLength="16.3" lengthAdjust="spacing">0.4</text>
<text x="1308" y="372.25" font-size="11" fill="#d9245a" textLength="16.3" lengthAdjust="spacing">0.0</text>
<text x="1308.7" y="421.14" font-size="11" fill="#d9245a" textLength="20.5" lengthAdjust="spacing">-0.4</text>
<text x="1308.7" y="470.03" font-size="11" fill="#d9245a" textLength="20.5" lengthAdjust="spacing">-0.8</text>
<text x="1308.7" y="518.92" font-size="11" fill="#d9245a" textLength="20.5" lengthAdjust="spacing">-1.2</text>
<text x="1308.7" y="567.81" font-size="11" fill="#d9245a" textLength="20.5" lengthAdjust="spacing">-1.6</text>
<text x="1308.7" y="616.7" font-size="11" fill="#d9245a" textLength="20.5" lengthAdjust="spacing">-2.0</text>
<text x="1310" y="146" font-size="11" fill="#d9245a">V</text>
<text x="1306.5" y="205.8" font-size="11" fill="#d9245a" textLength="41" lengthAdjust="spacing">400 mV</text>
<text x="70.95" y="631.8" font-size="11.5" fill="#111" textLength="20.5" lengthAdjust="spacingAndGlyphs">-5.0</text>
<text x="192.15" y="631.8" font-size="11.5" fill="#111" textLength="16.2" lengthAdjust="spacingAndGlyphs">0.0</text>
<text x="310.7" y="631.8" font-size="11.5" fill="#111" textLength="16.2" lengthAdjust="spacingAndGlyphs">5.0</text>
<text x="424.8" y="631.8" font-size="11.5" fill="#111" textLength="22.3" lengthAdjust="spacingAndGlyphs">10.0</text>
<text x="544.75" y="631.8" font-size="11.5" fill="#111" textLength="22.3" lengthAdjust="spacingAndGlyphs">15.0</text>
<text x="663.3" y="631.8" font-size="11.5" fill="#111" textLength="22.3" lengthAdjust="spacingAndGlyphs">20.0</text>
<text x="781.85" y="631.8" font-size="11.5" fill="#111" textLength="22.3" lengthAdjust="spacingAndGlyphs">25.0</text>
<text x="900.4" y="631.8" font-size="11.5" fill="#111" textLength="22.3" lengthAdjust="spacingAndGlyphs">30.0</text>
<text x="1018.95" y="631.8" font-size="11.5" fill="#111" textLength="22.3" lengthAdjust="spacingAndGlyphs">35.0</text>
<text x="1137.5" y="631.8" font-size="11.5" fill="#111" textLength="22.3" lengthAdjust="spacingAndGlyphs">40.0</text>
<text x="1256.05" y="631.8" font-size="11.5" fill="#111" textLength="22.3" lengthAdjust="spacingAndGlyphs">45.0</text>
<text x="83.6" y="649.2" font-size="11.5" fill="#111" textLength="11.2" lengthAdjust="spacingAndGlyphs">µs</text>
<text x="599.3" y="649.2" font-size="11.5" fill="#111" textLength="42.3" lengthAdjust="spacingAndGlyphs">5 µs/div</text>
<rect x="5.6" y="122.5" width="8" height="7.4" fill="#2e48e0" stroke="#1a2a2a" stroke-width="1"/>
<rect x="43.7" y="122.5" width="8" height="7.4" fill="#2cd81c" stroke="#1a2a2a" stroke-width="1"/>
<rect x="1297.5" y="122.5" width="8" height="7.4" fill="#c8a020" stroke="#3a3a2a" stroke-width="1"/>
<rect x="1336.3" y="122.5" width="8" height="7.4" fill="#e81838" stroke="#3a2a2a" stroke-width="1"/>
<rect x="6" y="634.3" width="34.8" height="11.4" fill="#6b7ce8"/>
<text x="15.7" y="643.2" font-size="9" fill="#e8ecff" textLength="15.4" lengthAdjust="spacingAndGlyphs">x1.0</text>
<rect x="44.1" y="634.3" width="35.1" height="11.4" fill="#7de890"/>
<text x="53.95" y="643.2" font-size="9" fill="#c4f6cc" textLength="15.4" lengthAdjust="spacingAndGlyphs">x1.0</text>
<rect x="1268.3" y="634.3" width="34" height="11.4" fill="#d8cc80"/>
<text x="1277.6" y="643.2" font-size="9" fill="#f2ecc0" textLength="15.4" lengthAdjust="spacingAndGlyphs">x1.0</text>
<rect x="1306.3" y="634.3" width="35" height="11.4" fill="#f080b0"/>
<text x="1316.1" y="643.2" font-size="9" fill="#ffe4f0" textLength="15.4" lengthAdjust="spacingAndGlyphs">x1.0</text>
<rect x="1159.1" y="635.8" width="107.2" height="15.7" fill="#98aba9"/>
<rect x="1193.6" y="636.9" width="71.7" height="13.6" fill="#fff"/>
<rect x="1162.2" y="642.2" width="5.2" height="5.4" fill="#fff" stroke="#111" stroke-width="1.1"/>
<text x="1169.7" y="649.7" font-size="13" fill="#f2f6f5" textLength="19.1" lengthAdjust="spacingAndGlyphs">1/Δ</text>
<text x="1196" y="649.7" font-size="12.5" fill="#111" textLength="46" lengthAdjust="spacingAndGlyphs">36.8 kHz</text>
<rect x="748.3" y="131.3" width="319" height="36.6" fill="#98aba9"/>
<rect x="748.8" y="131.8" width="318" height="35.6" fill="none" stroke="#d8e0de" stroke-width="1"/>
<rect x="765.8" y="149.7" width="300" height="15.6" fill="#fff"/>
<path d="M865.4 133.5V166" stroke="#98aba9" stroke-width="1"/>
<path d="M865.4 134V149" stroke="#e6eeec" stroke-width="1"/>
<path d="M964.4 133.5V166" stroke="#98aba9" stroke-width="1"/>
<path d="M964.4 134V149" stroke="#e6eeec" stroke-width="1"/>
<text x="770.2" y="148.1" font-size="13" fill="#f2f6f5">1</text>
<text x="870.6" y="148.1" font-size="13" fill="#f2f6f5">2</text>
<text x="970" y="147.4" font-size="13" fill="#f2f6f5" textLength="8.6" lengthAdjust="spacingAndGlyphs">Δ</text>
<text x="768.9" y="162.7" font-size="12" fill="#111" textLength="42" lengthAdjust="spacingAndGlyphs">9.643 µs</text>
<text x="869" y="162.7" font-size="12" fill="#111" textLength="41.6" lengthAdjust="spacingAndGlyphs">36.82 µs</text>
<text x="968" y="162.7" font-size="12" fill="#111" textLength="41.6" lengthAdjust="spacingAndGlyphs">27.18 µs</text>
<rect x="755.8" y="155.6" width="5" height="5" fill="#fff" stroke="#111" stroke-width="1.1"/>
<rect x="1036.2" y="143" width="6.6" height="2.7" fill="#fff"/>
<path d="M1053 137.2l7.8 7.8M1060.8 137.2l-7.8 7.8" stroke="#fff" stroke-width="1.9" fill="none"/>
<path d="M1057.4 158v-2.4a2 2 0 0 1 4 0v.6" stroke="#9aa9a6" stroke-width="1.4" fill="none"/><rect x="1056.2" y="157.6" width="6.4" height="5.1" fill="#9aa9a6"/>
</svg>
<div style="left:3.7px;top:656.2px;width:1339.1px;height:15.6px;background:#98aba9"></div>
<div style="left:3.7px;top:671.7px;width:15px;height:49.7px;background:#98aba9"></div>
<div style="left:18.7px;top:671.8px;width:1324.1px;height:24.6px;background:#77b8ee"></div>
<div style="left:18.7px;top:696.4px;width:1324.1px;height:25px;background:#fff"></div>
<div style="left:91.8px;top:657px;width:1px;height:13.8px;background:#eef3f2"></div>
<div style="left:91.8px;top:696.5px;width:1px;height:24.9px;background:#c9c9c9"></div>
<div style="left:231.3px;top:657px;width:1px;height:13.8px;background:#eef3f2"></div>
<div style="left:231.3px;top:696.5px;width:1px;height:24.9px;background:#c9c9c9"></div>
<div style="left:302px;top:657px;width:1px;height:13.8px;background:#eef3f2"></div>
<div style="left:302px;top:696.5px;width:1px;height:24.9px;background:#c9c9c9"></div>
<div style="left:372.7px;top:657px;width:1px;height:13.8px;background:#eef3f2"></div>
<div style="left:372.7px;top:696.5px;width:1px;height:24.9px;background:#c9c9c9"></div>
<div style="left:443.2px;top:657px;width:1px;height:13.8px;background:#eef3f2"></div>
<div style="left:443.2px;top:696.5px;width:1px;height:24.9px;background:#c9c9c9"></div>
<div style="left:516.1px;top:657px;width:1px;height:13.8px;background:#eef3f2"></div>
<div style="left:516.1px;top:696.5px;width:1px;height:24.9px;background:#c9c9c9"></div>
<div style="left:586.8px;top:657px;width:1px;height:13.8px;background:#eef3f2"></div>
<div style="left:586.8px;top:696.5px;width:1px;height:24.9px;background:#c9c9c9"></div>
<div style="left:694.1px;top:657px;width:1px;height:13.8px;background:#eef3f2"></div>
<div style="left:694.1px;top:696.5px;width:1px;height:24.9px;background:#c9c9c9"></div>
<span class="t" style="left:24.60px;top:654.9px;font-size:12.5px;color:#fff;transform:scaleX(0.9170);">Channel</span>
<span class="t" style="left:98.50px;top:654.9px;font-size:12.5px;color:#fff;transform:scaleX(0.9355);">Name</span>
<span class="t" style="left:237.50px;top:654.9px;font-size:12.5px;color:#fff;transform:scaleX(0.8892);">Value</span>
<span class="t" style="left:308.70px;top:654.9px;font-size:12.5px;color:#fff;transform:scaleX(0.9733);">Min</span>
<span class="t" style="left:379.70px;top:654.9px;font-size:12.5px;color:#fff;transform:scaleX(0.9190);">Max</span>
<span class="t" style="left:449.30px;top:654.9px;font-size:12.5px;color:#fff;transform:scaleX(0.9215);">Average</span>
<span class="t" style="left:522.30px;top:654.9px;font-size:12.5px;color:#fff;transform:scaleX(0.8298);">σ</span>
<span class="t" style="left:593.20px;top:654.9px;font-size:12.5px;color:#fff;transform:scaleX(0.9533);">Capture Count</span>
<span class="t" style="left:700.00px;top:654.9px;font-size:12.5px;color:#fff;transform:scaleX(0.8702);">Span</span>
<span class="t" style="left:24.00px;top:675.6px;font-size:14px;color:#f4fbff;">A</span>
<span class="t" style="left:97.60px;top:675.6px;font-size:14px;color:#f4fbff;transform:scaleX(1.0624);">Falling Edge Count</span>
<span class="t" style="left:238.40px;top:675.6px;font-size:14px;color:#f4fbff;transform:scaleX(0.9507);">13</span>
<span class="t" style="left:309.10px;top:675.6px;font-size:14px;color:#f4fbff;transform:scaleX(0.9507);">13</span>
<span class="t" style="left:379.80px;top:675.6px;font-size:14px;color:#f4fbff;transform:scaleX(0.9507);">13</span>
<span class="t" style="left:449.80px;top:675.6px;font-size:14px;color:#f4fbff;transform:scaleX(0.9507);">13</span>
<span class="t" style="left:522.00px;top:675.6px;font-size:14px;color:#f4fbff;">0</span>
<span class="t" style="left:593.20px;top:675.6px;font-size:14px;color:#f4fbff;">1</span>
<span class="t" style="left:699.60px;top:675.6px;font-size:14px;color:#f4fbff;transform:scaleX(1.1019);">Whole trace</span>
<span class="t" style="left:24.00px;top:700.6px;font-size:14px;color:#111;">B</span>
<span class="t" style="left:97.60px;top:700.6px;font-size:14px;color:#111;transform:scaleX(0.9866);">Peak To Peak</span>
<span class="t" style="left:238.40px;top:700.6px;font-size:14px;color:#111;transform:scaleX(1.0340);">1.047 V</span>
<span class="t" style="left:309.10px;top:700.6px;font-size:14px;color:#111;transform:scaleX(1.0340);">1.047 V</span>
<span class="t" style="left:379.80px;top:700.6px;font-size:14px;color:#111;transform:scaleX(1.0340);">1.047 V</span>
<span class="t" style="left:449.80px;top:700.6px;font-size:14px;color:#111;transform:scaleX(1.0340);">1.047 V</span>
<span class="t" style="left:522.00px;top:700.6px;font-size:14px;color:#111;">0 V</span>
<span class="t" style="left:593.20px;top:700.6px;font-size:14px;color:#111;">1</span>
<span class="t" style="left:699.60px;top:700.6px;font-size:14px;color:#111;transform:scaleX(1.0912);">Between rulers</span>
<div style="left:8px;top:681.2px;width:6.2px;height:6.2px;background:#3a4ae0;border:1px solid #1a2030"></div>
<div style="left:8px;top:706.1px;width:6.2px;height:6.2px;background:#e8284a;border:1px solid #301018"></div>
<div style="left:1327px;top:667px;width:7px;height:2.2px;background:#fff"></div>
<div style="left:1.6px;top:725.4px;width:1344.2px;height:30.6px;background:linear-gradient(#fbfaf4,#f0eee2 60%,#e9e6d6)"></div>
<span class="t" style="left:11.40px;top:730px;font-size:12.5px;color:#000;transform:scaleX(0.9232);">Stopped</span>
<svg style="left:72px;top:733px" width="10" height="13"><path d="M0.7 1.2L8.8 6.7L0.7 12.2z" fill="#2fae1c"/></svg>
<div class="sel" style="left:89.6px;top:727.6px;width:25.2px;height:24.4px;"><div style="left:7px;top:6.3px;width:10.8px;height:10.8px;background:#f01010"></div></div>
<div class="sep" style="left:117px;top:728px;width:2px;height:25px;"></div>
<span class="t" style="left:122.90px;top:730px;font-size:12.5px;color:#000;transform:scaleX(0.9201);">Trigger</span>
<div class="dd" style="left:170.4px;top:727.6px;width:74px;height:24.4px;"><div class="tri-d" style="left:55px;top:8.9px"></div></div><span class="t" style="left:174.90px;top:729.8px;font-size:12.5px;color:#000;transform:scaleX(0.8921);">Single</span>
<div class="sep" style="left:274.9px;top:728px;width:2px;height:24px;"></div>
<div class="dd" style="left:283.4px;top:727.6px;width:43.1px;height:24.7px;"><div class="tri-d" style="left:25.2px;top:9.05px"></div></div><span class="t" style="left:287.30px;top:729.7px;font-size:12.5px;color:#000;transform:scaleX(0.9595);">A</span>
<div class="sep" style="left:330.7px;top:728px;width:2px;height:24px;"></div>
<div class="sel" style="left:335px;top:727.3px;width:25.6px;height:25px;"></div>
<div class="sep" style="left:389px;top:728px;width:2px;height:25px;"></div>
<div class="spin" style="left:397.4px;top:727.5px;width:96.7px;height:24.8px;"><div class="w" style="left:23.5px;top:-1px;width:47.5px;height:24.8px;"></div><div class="tri-l" style="left:8.45px;top:6.7px;border-right-color:#2b77dd"></div><div class="tri-r" style="left:81.55px;top:6.7px;border-left-color:#2b77dd"></div></div><span class="t" style="left:426.00px;top:729.9px;font-size:12.5px;color:#000;transform:scaleX(0.8923);">904.3 m</span>
<div class="sep" style="left:498.7px;top:728px;width:2px;height:25px;"></div>
<div class="spin" style="left:507.2px;top:727.5px;width:98.5px;height:24.8px;"><div class="w" style="left:24.3px;top:-1px;width:47.9px;height:24.8px;"></div><div class="tri-l" style="left:8.85px;top:6.7px;border-right-color:#2b77dd"></div><div class="tri-r" style="left:83.05px;top:6.7px;border-left-color:#2b77dd"></div></div><span class="t" style="left:537.50px;top:729.9px;font-size:12.5px;color:#000;transform:scaleX(0.8495);">10 %</span>
<div class="spin dis" style="left:638px;top:727.5px;width:97px;height:24.8px;"><div class="w" style="left:24.5px;top:-1px;width:47.1px;height:24.8px;"></div><div class="tri-l" style="left:8.95px;top:6.7px;border-right-color:#8fd2ec"></div><div class="tri-r" style="left:82px;top:6.7px;border-left-color:#8fd2ec"></div></div><span class="t" style="left:670.70px;top:729.9px;font-size:12.5px;color:#c8c8c8;">0 s</span>
<div class="sep" style="left:740.5px;top:728px;width:2px;height:25px;"></div>
<span class="t" style="left:748.20px;top:730px;font-size:12.5px;color:#000;transform:scaleX(0.9314);">Measurements</span>
<div class="gbtn" style="left:835.4px;top:732.2px;width:14.4px;height:14.4px;"><svg style="left:-1.2px;top:-1.2px" width="14.4" height="14.4"><path d="M3.4 7.2h7.6M7.2 3.4v7.6" stroke="#fff" stroke-width="2.1"/></svg></div>
<div class="gbtn" style="left:861.4px;top:732.2px;width:14.4px;height:14.4px;"><svg style="left:-1.2px;top:-1.2px" width="14.4" height="14.4"><path d="M3.4 7.2h7.6" stroke="#fff" stroke-width="2.1"/></svg></div>
<div class="gbtn" style="left:887.3px;top:732.2px;width:14.4px;height:14.4px;"><svg style="left:-1.2px;top:-1.2px" width="14.4" height="14.4"><path d="M2.8 10.2L7.2 4.4L11.6 10.2z" fill="#fff"/></svg></div>
<div class="gbtn" style="left:957.6px;top:732.2px;width:14.4px;height:14.4px;"><svg style="left:-1.2px;top:-1.2px" width="14.4" height="14.4"><path d="M2.8 10.2L7.2 4.4L11.6 10.2z" fill="#fff"/></svg></div>
<div class="gbtn" style="left:1019.6px;top:732.2px;width:14.4px;height:14.4px;"><svg style="left:-1.2px;top:-1.2px" width="14.4" height="14.4"><path d="M2.8 10.2L7.2 4.4L11.6 10.2z" fill="#fff"/></svg></div>
<div class="sep" style="left:908.7px;top:728px;width:2px;height:25px;"></div>
<span class="t" style="left:917.40px;top:730px;font-size:12.5px;color:#000;transform:scaleX(0.8415);">Rulers</span>
<span class="t" style="left:981.10px;top:730px;font-size:12.5px;color:#000;transform:scaleX(0.9311);">Notes</span>
<svg style="left:0;top:0;pointer-events:none" width="1347" height="758" viewBox="0 0 1347 758" font-family="'Liberation Sans',sans-serif">
<defs><linearGradient id="rg" x1="0" x2="1" y1="1" y2="0"><stop offset="0" stop-color="#1c2c70"/><stop offset=".55" stop-color="#3c58b8"/><stop offset="1" stop-color="#90a8dc"/></linearGradient><linearGradient id="pg" x1="0" x2="1" y1="0" y2="0"><stop offset="0" stop-color="#e8ffff"/><stop offset=".45" stop-color="#70b0f0"/><stop offset=".75" stop-color="#5050d8"/><stop offset="1" stop-color="#e02040"/></linearGradient><linearGradient id="lg" x1="0" x2="1" y1="0" y2="1"><stop offset="0" stop-color="#fff4a0"/><stop offset=".6" stop-color="#f6c040"/><stop offset="1" stop-color="#d87818"/></linearGradient></defs>
<path d="M8.6 74.4C10.6 70 12.6 65.4 14.6 65.4C17.2 65.4 18.4 73.8 21 73.8C22.4 73.8 23.2 73 24 72.2" stroke="#d8284a" stroke-width="1.5" fill="none" stroke-linecap="round"/>
<path d="M7.9 71.2C9.6 67.4 11.4 64.8 13.3 64.8C16 64.8 17.2 73 20 73C21.6 73 22.8 69.6 24 66.6" stroke="#3a4ad0" stroke-width="1.5" fill="none" stroke-linecap="round"/>
<rect x="39.5" y="65.6" width="6.5" height="9" fill="url(#pg)"/>
<path d="M33.8 74.5H37.4V65.1H46.2V74.5H50" stroke="#e01818" stroke-width="1.3" fill="none"/>
<rect x="61.5" y="66.9" width="1.8" height="5.8" fill="#1018a0"/><rect x="65" y="63.1" width="2.3" height="9.6" fill="#1018a0"/><rect x="69.3" y="65.9" width="1.8" height="6.8" fill="#1018a0"/><rect x="73" y="68.1" width="1.8" height="4.6" fill="#1018a0"/><rect x="60" y="72.5" width="16" height="1.4" fill="#080860"/>
<g opacity=".9"><rect x="93.5" y="66.9" width="1.8" height="5.8" fill="#c6c8de"/><rect x="97" y="63.1" width="2.3" height="9.6" fill="#c6c8de"/><rect x="101.3" y="65.9" width="1.8" height="6.8" fill="#c6c8de"/><rect x="105" y="68.1" width="1.8" height="4.6" fill="#c6c8de"/><rect x="92" y="72.5" width="16" height="1.4" fill="#d0d0dc"/><path d="M108 72.6V77.4H102.8z" fill="#b4b8b0"/></g>
<path d="M130 63.4H135.6L133.6 66.4H137L127.3 76.8L130.6 70H126.2z" fill="url(#lg)" stroke="#3a1800" stroke-width="1.1" stroke-linejoin="round"/>
<rect x="160.2" y="63.2" width="1.8" height="4.5" fill="#801018"/>
<path d="M151.6 70.2V76.4H162.6V70.2" fill="#fff" stroke="#101010" stroke-width="1.2"/>
<path d="M149.4 70.6L157 63.5L164.6 70.6" fill="none" stroke="#202000" stroke-width="2.6" stroke-linejoin="miter"/>
<path d="M149.8 70.3L157 63.7L164.2 70.3" fill="none" stroke="#f0d838" stroke-width="1.3"/>
<rect x="155.5" y="71.6" width="3.2" height="4.8" fill="#d8c040" stroke="#403800" stroke-width="1"/>
<circle cx="615.6" cy="69.4" r="7.3" fill="#fff" stroke="#3a60d0" stroke-width="1.5"/>
<path d="M615.6 69.4L613.9 67.7L620.3 64.5L617.3 71.1z" fill="#3858d0"/><path d="M615.6 69.4L617.3 71.1L610.9 74.3L613.9 67.7z" fill="#e02848"/>
<path d="M748.9 62.9V73.9L751.5 71.6L753.9 76.7L755.8 75.8L753.5 70.9L756.8 70.6z" fill="#000" stroke="#000" stroke-width=".5" stroke-linejoin="round"/>
<path d="M775.6 77.6L770.6 70.8L771.4 69.2L773.4 69.6L774.6 70.8L773.4 65.4L774.4 63.8L775.8 64.6L776.8 68.4L776.6 63L778 61.9L779.4 63L779.8 68.2L780.6 63.6L781.8 62.8L782.8 63.8L782.8 68.6L784.2 66L785.4 65.6L786.2 66.8L785.4 72L783 77.6" fill="#fff" stroke="#000" stroke-width="1.1" stroke-linejoin="round"/>
<g><path d="M805.0 70.8L811.0 76.3" stroke="#1c1420" stroke-width="3.3" stroke-linecap="round"/><path d="M805.8 70.6L811.4 75.7" stroke="#e4a084" stroke-width="1.9" stroke-linecap="round"/><circle cx="801.6" cy="67.4" r="4.3" fill="#e6f2fd" stroke="url(#rg)" stroke-width="1.5"/><path d="M800.4 64.80000000000001q-2 2.6 0 5.2M803.0 64.80000000000001q2 2.6 0 5.2" stroke="#2838c0" stroke-width="1.2" fill="none"/></g>
<g><path d="M831.5 70.8L837.5 76.3" stroke="#1c1420" stroke-width="3.3" stroke-linecap="round"/><path d="M832.3 70.6L837.9 75.7" stroke="#e4a084" stroke-width="1.9" stroke-linecap="round"/><circle cx="828.1" cy="67.4" r="4.3" fill="#e6f2fd" stroke="url(#rg)" stroke-width="1.5"/><path d="M825.5 67.4h5.2M828.1 64.80000000000001v5.2" stroke="#2838c0" stroke-width="1.7"/></g>
<g><path d="M857.4 70.8L863.4 76.3" stroke="#1c1420" stroke-width="3.3" stroke-linecap="round"/><path d="M858.2 70.6L863.8 75.7" stroke="#e4a084" stroke-width="1.9" stroke-linecap="round"/><circle cx="854" cy="67.4" r="4.3" fill="#e6f2fd" stroke="url(#rg)" stroke-width="1.5"/><path d="M851.4 67.4h5.2" stroke="#2838c0" stroke-width="1.7"/></g>
<g><path d="M915.6 71.1L921.3 76.7" stroke="#1c1420" stroke-width="3.3" stroke-linecap="round"/><path d="M916.5 70.8L921.7 76.1" stroke="#e4a084" stroke-width="1.9" stroke-linecap="round"/><circle cx="911.6" cy="67.1" r="5.0" fill="#e6f2fd" stroke="#2c3c50" stroke-width="1.2"/><text x="911.6" y="69.6" font-size="7" font-weight="bold" text-anchor="middle" fill="#000" textLength="9.2" lengthAdjust="spacingAndGlyphs">100</text></g>
<path d="M876 66.4H881V64.2L884.6 64.2C888.6 64.2 890 67.6 889 70.4C888 73.2 885.6 75.2 882.6 76.2C885 73.8 885.8 71.6 885.2 69.8C884.8 68.8 884 68.6 883 68.6H881V70.8H876z" fill="#c9d2e4" opacity=".9"/>
<path d="M944.2 103.6C945 100 945.6 96.6 946.8 96.6C948.4 96.6 948.6 105.6 950.4 105.6C952 105.6 952.2 96.6 953.8 96.6C955.4 96.6 955.6 105.6 957.2 105.6C958.4 105.6 959 100 960 96.6" stroke="#2a3cd0" stroke-width="1.4" fill="none" stroke-linejoin="round"/>
<path d="M960.4 103V110H953.2z" fill="#000"/>
<path d="M251.9 744.4H255.4V737.3H261.1V744.4H267.9" stroke="#101010" stroke-width="1.5" fill="none"/>
<path d="M261.1 732.1H267.9V738.8z" fill="#000"/><circle cx="261.4" cy="741.6" r="1.9" fill="#38c050"/>
<path d="M341 745.6H343.2L352.2 735.3H355" stroke="#10182a" stroke-width="1.3" fill="none"/>
<path d="M347.6 734.6V739.4M345.6 737L347.6 739.6L349.6 737M347.6 746.6V741.8M345.6 744.2L347.6 741.6L349.6 744.2" stroke="#2a48d0" stroke-width="1.1" fill="none"/>
<path d="M367.3 735.3H369.6L378.4 745.6H381.1" stroke="#10182a" stroke-width="1.3" fill="none"/>
<path d="M374.5 734.6V739.4M372.5 737L374.5 739.6L376.5 737M374.5 746.6V741.8M372.5 744.2L374.5 741.6L376.5 744.2" stroke="#2a48d0" stroke-width="1.1" fill="none"/>
<path d="M614.2 734.8H625.4" stroke="#2a48d0" stroke-width="1.5"/><path d="M624 732L628 734.8L624 737.6z" fill="#2a48d0"/>
<path d="M613.4 737.4C616 737.4 617.2 739.6 618.6 742.4C620 745.2 621.6 746.8 623.6 746.4" stroke="#101010" stroke-width="1.3" fill="none"/><path d="M626.6 738.6L629.4 741.4L626.6 744.2L623.8 741.4z" fill="#f0f080" stroke="#303000" stroke-width=".9"/>
<g font-family="'Liberation Serif',serif"><text x="1225.3" y="82" font-size="31.5" fill="#5f7478" stroke="#5f7478" stroke-width=".5" textLength="114.5" lengthAdjust="spacingAndGlyphs">pico</text><text x="1273" y="110.6" font-size="10.5" font-weight="bold" fill="#aab3b3" textLength="58.6" lengthAdjust="spacingAndGlyphs">Technology</text></g>
<path d="M1342.5 86.6L1312.0 101M1337.9 86.6L1307.8 101M1333.3 86.6L1303.6 101M1328.7 86.6L1299.4 101M1324.1 86.6L1295.2 101M1319.5 86.6L1291.0 101M1314.9 86.6L1286.8 101" stroke="#6f8896" stroke-width=".7" fill="none" opacity=".8"/>
<path d="M1252.0 87L1284.0 101M1258.5 87L1288.2 101M1265.0 87L1292.4 101M1271.5 87L1296.6 101M1278.0 87L1300.8 101M1284.5 87L1305.0 101M1291.0 87L1309.2 101" stroke="#a8cbe2" stroke-width=".7" fill="none" opacity=".8"/>
<path d="M1284 101.2H1322" stroke="#9ab4c4" stroke-width=".7" opacity=".8"/>
</svg>
<div style="left:0px;top:0px;width:1.4px;height:758px;background:linear-gradient(#3490e0,#559aa6 36px)"></div>
<div style="left:1345.7px;top:0px;width:1.3px;height:758px;background:linear-gradient(#3490e0,#559aa6 36px)"></div>
<div style="left:0px;top:756px;width:1347px;height:2px;background:#4f97a6"></div>
</body></html>
